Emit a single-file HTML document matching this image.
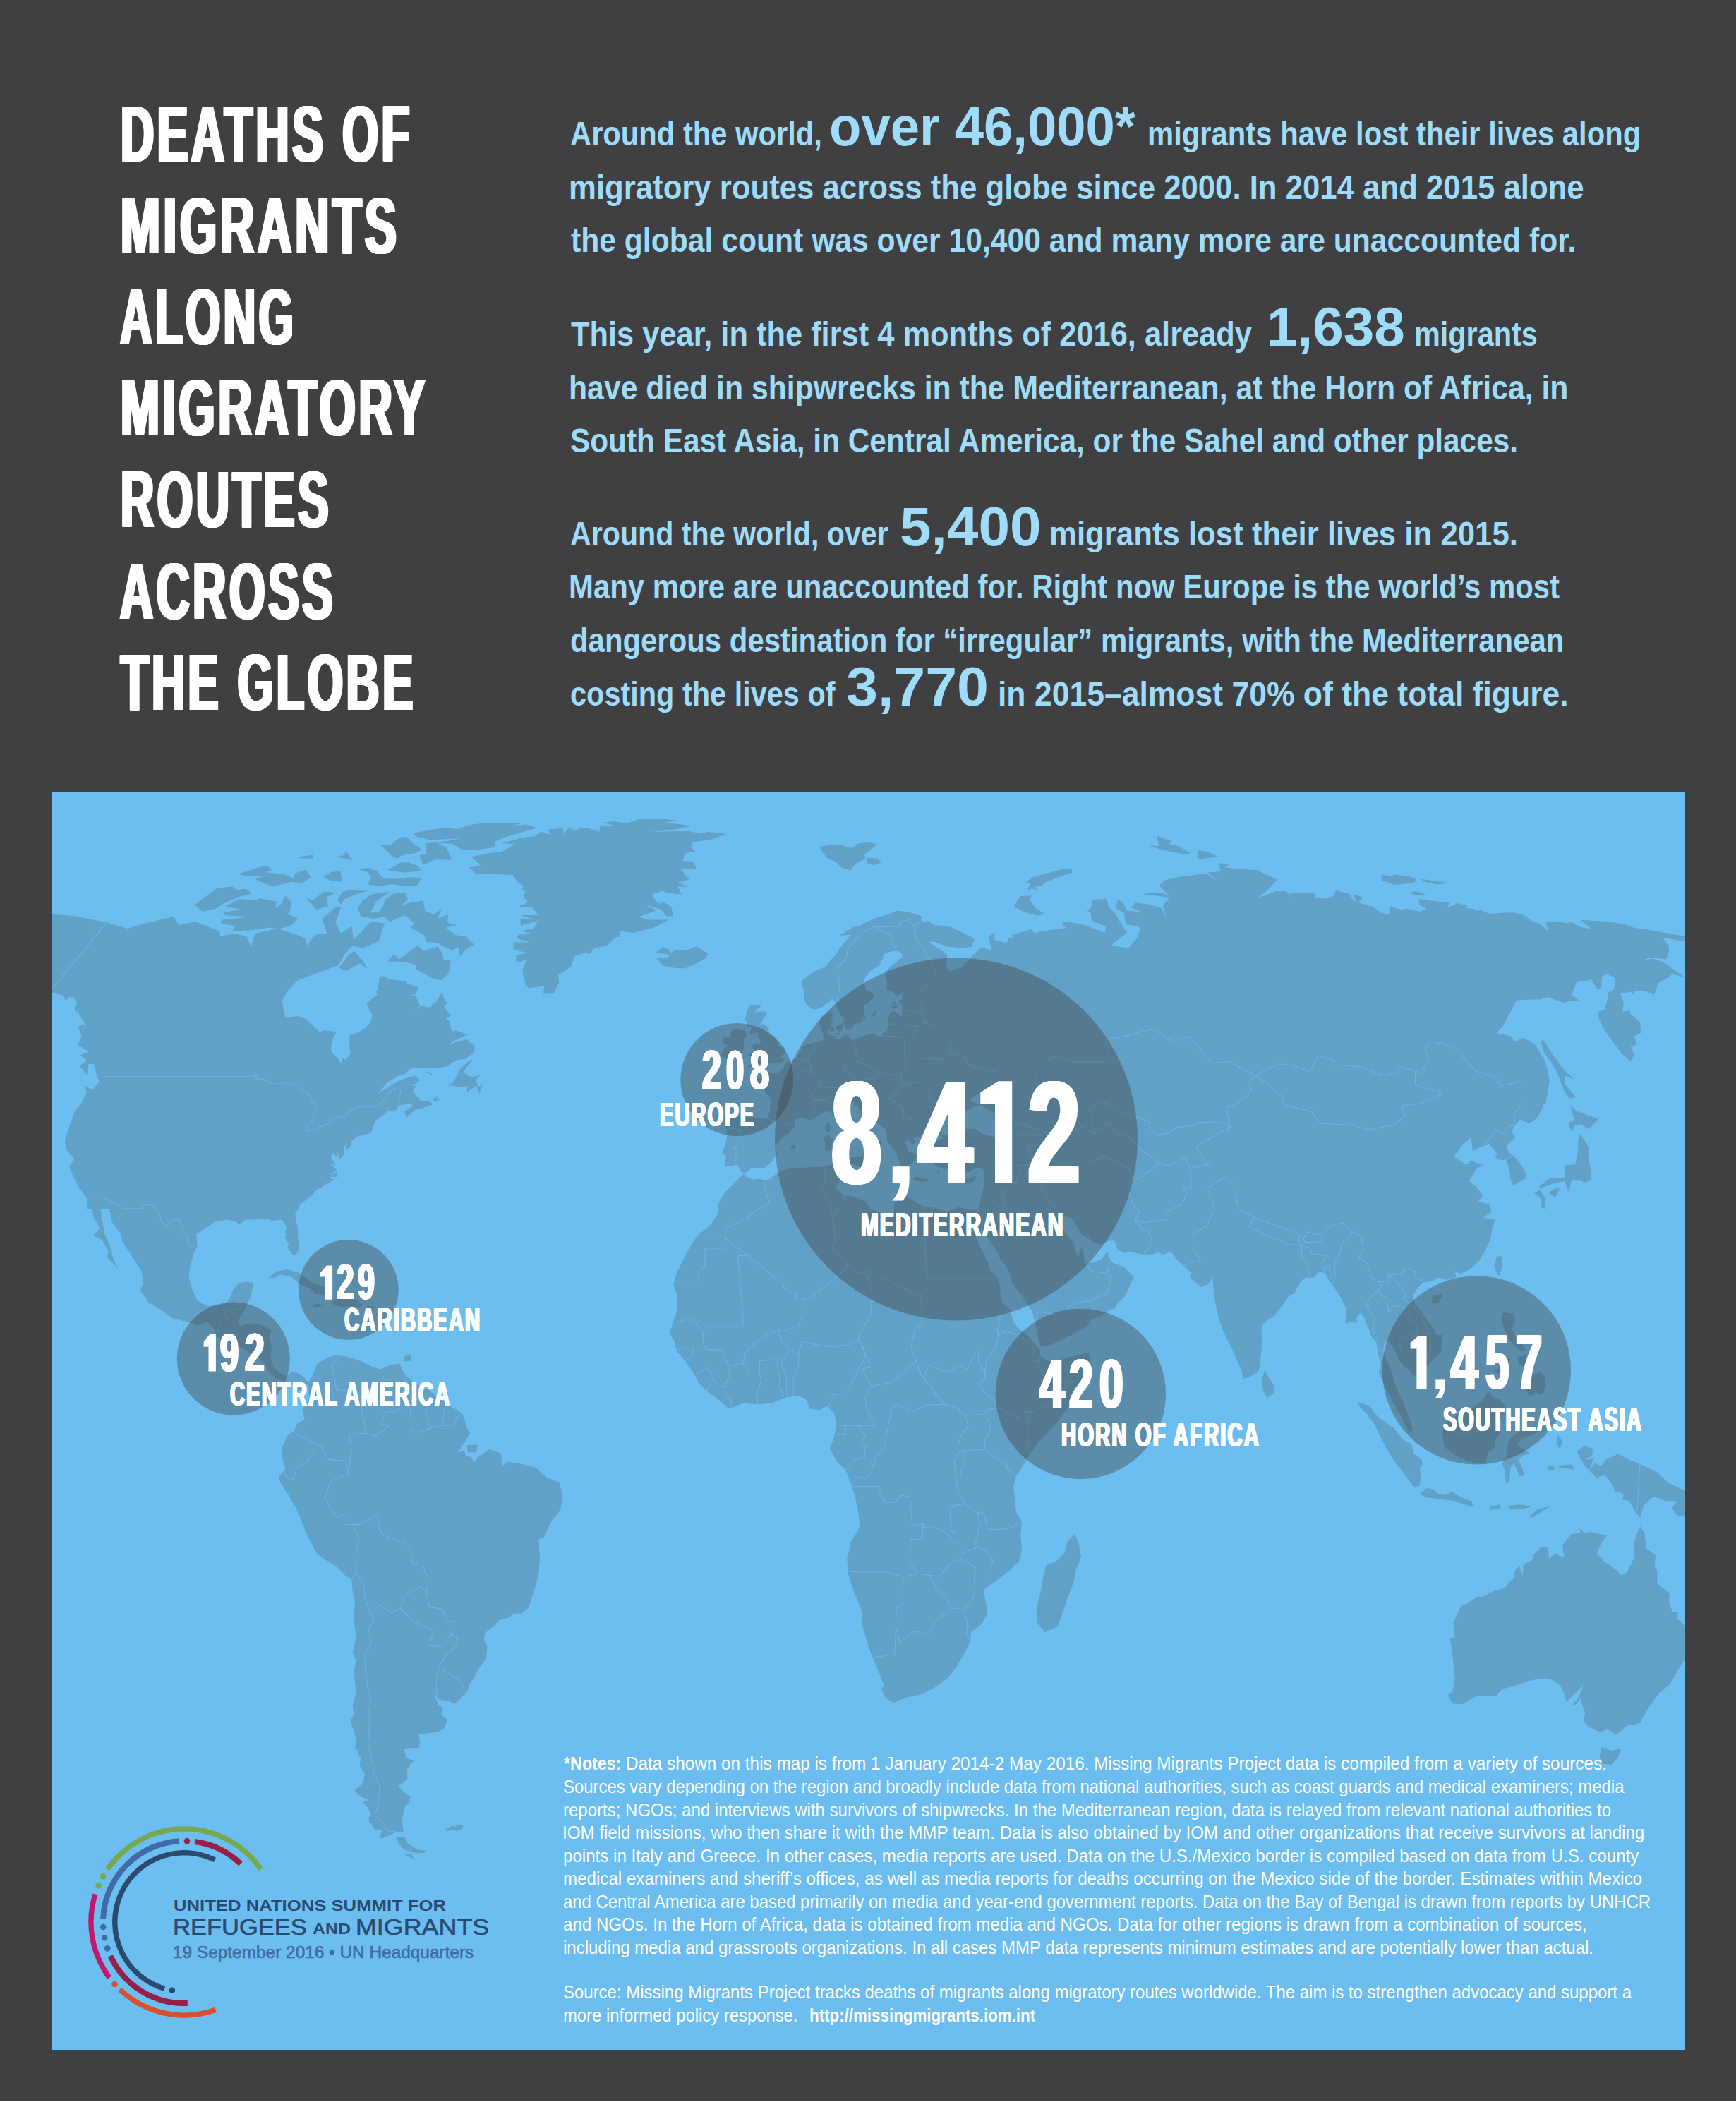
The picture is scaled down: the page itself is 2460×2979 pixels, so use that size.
<!DOCTYPE html>
<html><head><meta charset="utf-8"><title>Deaths of migrants along migratory routes across the globe</title>
<style>
html,body{margin:0;padding:0}
body{width:2460px;height:2979px;background:#404042;position:relative;overflow:hidden;font-family:"Liberation Sans",sans-serif}
.t{position:absolute;white-space:nowrap;line-height:1;transform-origin:0 0;margin:0}
#map{position:absolute;left:73px;top:1123px;width:2315px;height:1782px;background:#6dbef0;overflow:hidden}
#map svg{position:absolute;left:0;top:0}
#vline{position:absolute;left:714.6px;top:144.5px;width:1.8px;height:878.5px;background:#8cc4df}
#bot{position:absolute;left:0;top:2977.7px;width:2460px;height:1.3px;background:#ffffff}
</style></head><body>
<div id="vline"></div>
<div id="map"><svg width="2315" height="1782" viewBox="0 0 2315 1782">
<g fill="#61a0c7" stroke="none">
<polygon points="-2.5,172.5 30.0,175.0 77.5,184.0 107.5,193.0 131.0,186.0 172.5,176.0 181.0,188.0 204.0,183.0 239.0,197.0 238.0,204.0 260.0,200.0 276.5,204.0 282.5,219.0 288.5,200.0 320.0,193.0 350.0,202.5 359.5,207.0 362.0,217.0 373.5,202.0 390.0,199.5 383.5,179.0 402.5,162.5 410.5,162.0 402.5,184.0 410.0,199.5 425.5,189.5 428.0,209.5 452.0,183.0 472.0,185.5 463.5,211.0 440.5,221.0 426.5,217.0 415.0,230.0 406.5,245.0 379.5,255.0 354.5,264.0 312.0,264.0 312.0,590.0 50.0,590.0 50.0,575.0 37.5,557.5 30.0,542.5 25.0,530.0 32.5,520.0 20.0,505.0 19.0,492.5 25.0,475.0 32.5,452.5 42.5,440.0 50.0,425.0 47.5,415.0 57.5,422.5 67.5,410.0 62.5,395.0 60.0,385.0 52.5,385.0 50.0,400.0 40.0,387.5 50.0,380.0 40.0,372.5 52.5,367.5 37.5,357.5 42.5,345.0 37.5,332.5 47.5,327.5 42.5,320.0 32.5,307.5 35.0,295.0 27.5,290.0 20.0,295.0 15.0,287.5 5.0,285.0 -2.5,285.0"/>
<polygon points="307.0,257.0 363.8,257.0 354.0,262.9 344.2,270.7 334.4,281.5 326.6,296.2 331.5,319.7 348.1,316.7 361.8,321.6 369.7,330.5 380.5,340.3 384.4,336.9 404.0,339.3 399.1,348.1 396.1,361.8 397.1,369.6 404.9,375.5 410.8,384.3 412.8,376.5 416.7,379.4 423.6,369.6 422.2,358.9 422.6,344.2 434.3,340.3 444.1,334.4 452.0,325.6 454.9,315.8 446.5,301.1 448.0,297.2 461.8,286.4 459.8,282.5 462.7,278.5 464.7,262.9 469.6,259.9 479.4,264.8 502.9,267.8 503.9,270.7 520.5,276.6 515.6,286.4 506.8,286.4 515.6,288.3 522.5,302.1 510.7,310.9 523.5,302.4 537.2,305.0 541.1,298.1 545.0,297.2 553.8,282.5 555.8,292.3 561.7,299.1 555.8,303.0 565.6,316.7 558.7,320.7 563.6,323.6 567.5,339.3 573.4,337.3 590.1,343.2 567.5,353.0 564.6,358.5 569.5,354.9 588.1,350.0 599.5,358.9 598.9,367.7 587.1,377.5 573.4,379.4 559.7,388.6 547.9,390.6 510.7,389.8 500.9,399.0 491.1,401.6 475.5,411.8 462.7,427.0 483.3,413.7 495.1,406.9 515.6,401.6 522.5,408.2 514.6,413.7 501.9,413.7 516.6,416.6 511.7,423.5 517.6,430.4 522.5,436.8 535.2,437.2 541.1,442.1 526.4,447.0 514.6,449.9 502.9,460.7 499.9,451.9 510.7,445.1 511.7,440.2 491.1,444.1 489.2,449.9 479.4,451.9 477.4,449.9 473.5,454.8 458.8,465.6 452.9,482.3 432.4,488.1 425.5,494.0 424.5,499.9 417.7,507.7 417.7,498.9 413.8,501.9 414.7,513.6 408.9,519.5 404.0,505.8 405.9,517.5 398.1,510.7 396.1,517.5 403.0,528.3 393.2,526.3 401.0,531.2 404.0,535.2 395.1,543.0 404.0,539.1 404.9,545.0 392.2,545.0 401.0,548.9 393.2,552.8 374.6,564.5 368.7,571.4 353.0,583.2 345.2,597.8 347.2,609.6 349.1,619.4 349.1,633.1 351.1,640.9 349.1,650.7 345.2,656.6 341.3,654.6 334.4,643.9 336.4,640.9 330.5,630.2 333.4,628.2 330.5,625.3 333.4,616.5 326.6,605.7 312.9,606.7 307.0,604.7"/>
<polygon points="560.7,415.7 570.5,409.8 575.4,398.0 580.3,390.2 595.9,377.5 594.0,382.4 583.2,396.1 589.1,401.0 595.9,402.9 607.7,401.0 601.8,405.9 603.8,417.6 610.6,413.7 606.7,426.4 601.8,415.7 589.1,424.5 589.1,415.7 579.3,418.6 570.5,415.7"/>
<polygon points="530.3,394.7 541.1,399.6 540.1,400.6 530.3,396.1"/>
<polygon points="540.1,435.3 549.9,427.4 545.0,434.3 551.9,435.6 542.1,437.2"/>
<polygon points="529.3,257.0 558.7,257.0 549.9,266.2 539.1,262.9"/>
<polygon points="202.7,159.3 235.2,135.5 256.7,133.5 263.0,138.5 275.7,136.5 283.8,143.6 263.0,148.7 244.0,157.5 232.6,165.1 213.6,169.0"/>
<polygon points="244.0,170.2 268.1,165.9 246.6,161.3 265.6,151.2 288.4,152.5 296.0,149.9 318.8,155.0 317.5,163.9 325.1,158.8 331.0,146.6 340.4,156.3 336.6,172.8 349.2,179.1 339.1,189.2 323.9,193.0 306.1,191.8 288.4,194.8 255.4,196.8 260.5,189.2 240.2,185.4 241.5,180.4 282.1,176.6 244.0,174.0"/>
<polygon points="264.3,115.7 288.4,108.1 304.9,103.6 312.5,109.4 303.6,113.2 330.2,116.2 342.9,122.1 345.4,114.5 360.6,109.4 367.5,120.8 355.6,127.9 339.1,127.1 313.7,133.5 288.4,123.3 301.1,118.3 274.5,118.8"/>
<polygon points="384.7,119.5 397.4,112.7 409.6,111.4 411.8,126.4 397.4,125.9"/>
<polygon points="432.9,108.6 450.6,106.8 462.0,111.9 469.6,122.1 491.2,122.8 506.4,120.3 524.1,121.3 517.8,132.2 495.0,132.2 482.3,129.7 465.8,133.0 448.1,130.4 453.2,120.8 448.1,113.2"/>
<polygon points="476.0,110.1 495.0,99.2 506.4,99.2 519.1,104.3 524.1,110.7 515.3,111.9 500.1,113.7"/>
<polygon points="465.8,73.9 481.0,73.9 492.4,65.0 502.6,62.5 512.7,72.6 525.4,81.5 514.0,86.6 496.3,89.1 489.9,94.2 481.0,89.1"/>
<polygon points="512.7,57.4 541.9,52.3 559.6,49.8 574.8,52.3 592.6,46.0 612.9,43.5 629.3,44.2 629.3,77.7 602.7,81.5 582.4,81.5 567.2,72.6 546.9,72.1 559.6,77.7 567.2,95.4 541.9,95.4 526.7,103.0 521.6,89.1 531.7,87.8 529.2,72.6 562.2,68.8 578.6,65.0 536.8,67.6 516.5,62.5"/>
<polygon points="595.1,91.6 617.9,86.6 629.3,85.8 629.3,114.5 602.7,115.7 592.6,106.8 607.8,103.0 605.3,99.2"/>
<polygon points="360.6,149.9 369.5,152.5 387.3,140.6 402.5,142.3 389.8,148.7 391.8,161.3 375.8,165.9"/>
<polygon points="405.0,152.5 412.6,141.1 424.0,138.0 448.1,139.8 430.3,144.9 415.1,151.2 410.1,158.8"/>
<polygon points="434.1,163.9 440.5,153.7 450.6,146.1 463.3,142.3 479.8,141.1 460.8,153.7 451.9,170.2 463.3,170.2 469.6,161.3 473.4,151.2 484.8,143.6 501.3,142.3 505.1,152.5 495.0,160.1 508.9,156.3 526.7,153.7 529.2,167.7 541.9,172.8 553.3,165.1 546.9,179.1 562.2,172.8 560.9,184.2 574.8,188.0 558.4,191.8 572.3,201.9 587.5,204.4 598.9,215.8 587.5,222.2 578.6,232.3 577.4,219.6 567.2,223.5 552.0,217.1 546.9,213.3 530.5,212.0 527.9,201.9 508.9,191.8 514.0,185.4 501.3,174.0 479.8,182.9 470.9,176.6 455.7,179.1 438.0,175.3"/>
<polygon points="476.0,239.4 484.8,229.8 493.7,236.1 511.5,222.2 519.1,217.1 527.9,224.7 546.9,218.4 553.3,227.3 555.8,237.4 566.0,237.4 562.2,257.7 550.8,266.5 536.8,261.5 515.3,250.1 516.5,245.0 502.6,239.9"/>
<polygon points="407.5,248.8 421.5,229.8 429.1,224.7 440.5,237.4 448.1,250.1 436.7,242.5 417.7,252.6"/>
<polygon points="349.2,91.6 370.8,88.6 371.5,93.4 351.8,93.4"/>
<polygon points="402.5,91.6 413.9,89.1 417.2,83.3 426.5,96.7 415.1,93.4"/>
<polygon points="594.8,91.8 625.3,85.2 638.5,83.8 657.1,73.2 638.5,71.9 667.7,64.0 683.6,62.6 694.2,56.0 707.4,60.0 703.5,52.6 724.7,50.7 726.0,58.7 733.9,49.4 741.9,54.7 749.8,49.4 760.4,50.7 776.3,56.0 777.7,46.7 797.5,47.3 781.6,42.8 797.5,40.9 814.7,44.1 832.0,38.3 858.5,36.7 887.6,40.1 869.1,42.8 907.5,47.3 879.7,53.4 847.9,56.0 903.5,54.7 919.4,58.7 930.0,56.0 956.5,58.7 936.6,66.6 908.8,70.6 906.2,78.5 912.8,83.8 898.2,86.5 894.2,97.1 908.8,98.4 914.1,107.7 891.6,109.0 903.5,123.6 887.6,127.6 903.5,134.2 887.6,132.9 892.9,144.8 871.7,142.1 865.1,139.5 850.5,144.8 859.8,158.0 867.7,155.4 878.3,162.0 881.0,175.3 871.7,175.3 863.8,166.0 839.9,158.0 857.1,167.3 832.0,176.6 845.2,180.6 874.4,180.6 854.5,191.2 825.3,199.1 805.5,196.5 805.5,204.4 798.8,205.7 788.3,216.3 768.4,221.6 761.8,229.6 757.8,226.9 740.6,232.2 736.6,246.8 718.0,258.7 719.4,269.3 711.4,285.2 696.8,285.2 698.2,274.6 675.6,277.3 670.3,268.0 667.2,252.1 673.0,237.5 658.4,241.5 658.4,230.9 673.0,226.9 654.4,223.0 654.4,212.4 678.3,212.4 659.7,207.1 661.1,201.8 682.3,200.4 665.0,196.5 683.6,192.5 688.9,181.9 665.0,188.5 664.5,179.2 684.9,180.6 665.0,173.9 690.2,173.9 680.9,163.3 661.1,162.0 675.6,155.4 669.0,147.4 671.7,140.8 666.4,136.8 669.0,132.9 659.7,126.2 653.1,117.0 620.0,115.6 601.4,115.6 592.2,106.4 622.6,105.0 625.3,100.3 606.7,101.1"/>
<polygon points="620.0,44.1 646.5,42.8 665.0,44.1 651.8,47.3 673.0,45.4 687.6,49.9 673.0,54.7 654.4,60.0 641.2,64.0 620.0,73.2"/>
<polygon points="855.8,227.5 866.4,219.0 875.7,223.0 878.3,228.3 883.6,223.0 898.2,224.3 914.1,218.2 930.0,228.3 927.4,234.9 912.8,242.8 896.9,249.4 882.3,248.7 866.4,245.5 857.1,234.9 874.4,233.6 874.4,229.6"/>
<polygon points="42.6,557.0 51.2,567.4 54.7,577.7 59.8,601.9 68.5,617.5 59.8,627.9 71.9,634.8 80.6,650.3 78.8,659.0 90.9,671.1 95.1,678.0 87.5,660.7 84.0,645.1 75.4,626.1 68.5,586.4 82.3,591.6 85.8,608.8 97.9,626.1 101.3,638.2 111.7,653.8 127.2,678.0 130.7,695.3 125.5,705.6 137.6,722.9 154.9,733.3 172.2,745.4 192.9,750.6 206.7,755.8 220.6,750.6 230.9,760.9 234.4,771.3 248.2,778.2 269.0,786.9 282.8,795.5 300.1,805.9 307.0,819.7 317.4,830.1 327.7,833.5 331.2,843.9 339.8,838.7 348.5,849.1 358.8,843.9 364.0,837.0 358.8,830.1 350.2,823.2 339.8,821.4 332.9,826.6 324.3,823.2 313.9,814.5 310.4,799.0 312.2,785.1 308.7,771.3 312.2,762.7 300.1,755.8 286.2,752.3 272.4,754.0 269.0,757.5 263.8,750.6 269.0,740.2 275.9,729.8 282.8,712.5 286.2,695.3 275.9,693.5 265.5,695.3 256.9,705.6 251.7,719.5 241.3,726.4 220.6,728.1 206.7,719.5 199.8,705.6 194.6,688.4 196.4,671.1 201.6,653.8 206.7,643.4 205.0,626.1 218.8,617.5 230.9,608.8 248.2,605.4 262.1,608.8 265.5,612.3 275.9,605.4 289.7,605.4 312.2,603.7 312.2,557.0"/>
<polygon points="307.7,687.7 319.1,678.7 334.6,676.3 350.2,680.7 367.5,693.5 384.8,700.4 398.6,709.1 393.4,712.5 372.7,710.8 367.5,703.9 351.9,697.0 339.8,686.6 324.3,683.2 313.9,688.4"/>
<polygon points="396.9,722.2 405.5,716.7 421.1,716.7 433.2,719.5 441.8,726.4 434.9,729.8 422.8,728.1 414.1,729.8 402.0,727.1"/>
<polygon points="367.5,726.4 379.6,724.6 384.8,728.1 372.7,729.8"/>
<polygon points="447.0,728.1 457.3,728.1 457.3,731.6 447.0,731.6"/>
<polygon points="500.6,799.0 509.2,797.2 509.2,805.9 499.9,805.9"/>
<polygon points="363.9,836.9 371.7,822.3 376.6,809.4 391.1,801.3 404.1,797.1 417.0,799.6 429.9,802.9 442.9,807.7 454.2,814.2 465.5,817.4 481.7,811.0 493.0,809.4 497.9,820.7 504.3,828.8 514.1,836.9 533.5,846.6 552.9,861.1 565.8,870.8 578.8,877.3 583.6,883.8 588.5,899.9 593.3,908.0 588.5,916.1 582.0,925.8 575.5,935.5 569.1,938.1 585.2,932.3 586.8,940.4 594.9,942.0 598.2,950.1 604.6,942.0 620.8,930.7 637.0,937.1 638.6,954.9 646.7,948.5 666.1,951.7 685.5,956.6 701.7,971.1 719.5,977.6 724.3,997.0 721.1,1016.4 706.5,1035.8 698.5,1055.2 690.4,1058.5 692.0,1084.3 690.4,1107.0 685.5,1126.4 675.8,1155.5 666.1,1163.6 656.4,1163.6 646.7,1170.1 633.8,1173.3 628.9,1179.8 614.3,1191.1 612.7,1200.8 617.6,1210.5 616.0,1226.7 604.6,1242.9 598.2,1255.8 593.3,1262.3 588.5,1275.2 582.0,1281.7 572.3,1291.4 562.6,1288.2 548.0,1284.9 543.2,1278.5 540.6,1272.0 548.0,1293.0 554.5,1297.9 552.9,1307.6 561.0,1314.0 556.1,1327.0 546.4,1331.8 520.5,1335.1 522.1,1346.4 520.5,1354.5 499.5,1356.1 502.7,1369.0 514.1,1372.3 501.1,1375.5 504.3,1385.2 502.7,1396.5 491.4,1407.9 494.6,1419.2 509.2,1424.0 501.1,1433.7 496.3,1459.6 449.3,1459.6 454.2,1443.5 449.3,1427.3 439.6,1424.0 429.9,1416.0 439.6,1406.2 444.5,1391.7 436.4,1378.7 439.6,1359.3 429.9,1356.1 431.6,1339.9 423.5,1315.7 428.3,1307.6 426.7,1294.6 431.6,1275.2 428.3,1246.1 431.6,1229.9 426.7,1220.2 431.6,1197.6 429.9,1184.6 428.3,1168.5 429.9,1149.0 426.7,1132.9 425.1,1115.1 417.0,1110.2 404.1,1097.3 387.9,1087.6 376.6,1079.5 370.1,1068.2 362.0,1052.0 355.5,1035.8 345.8,1013.2 334.5,993.8 324.8,979.2 321.6,971.1 331.3,958.2 326.4,942.0 326.4,929.1 334.5,911.3 344.2,904.8 347.4,895.1 358.8,888.6 355.5,874.1 365.2,857.9"/>
<polygon points="588.5,925.2 604.6,924.2 601.4,935.5 590.1,935.5"/>
<polygon points="435.4,1356.0 499.7,1356.0 502.8,1368.4 514.2,1372.6 505.9,1376.7 510.1,1374.6 503.9,1385.0 504.3,1398.5 491.4,1408.8 499.7,1417.1 508.0,1423.4 504.9,1428.5 509.1,1428.5 496.6,1442.0 494.5,1446.2 496.6,1456.5 498.7,1473.1 489.4,1473.1 468.6,1482.5 464.5,1481.4 468.6,1471.1 458.2,1470.0 453.1,1460.7 448.9,1453.4 453.1,1448.2 448.9,1440.0 441.7,1430.6 450.0,1429.6 444.8,1417.1 438.5,1416.1 429.2,1414.0 438.5,1406.8 442.7,1413.0 446.8,1396.4 441.7,1388.1 443.7,1379.8 440.6,1369.4 435.4,1365.3"/>
<polygon points="488.3,1480.4 499.7,1479.8 504.9,1489.7 512.2,1494.9 522.5,1499.1 531.9,1500.1 526.7,1503.2 516.3,1503.2 508.0,1501.1 499.7,1498.0 492.5,1490.8"/>
<polygon points="499.7,1505.3 510.1,1504.2 513.2,1511.5"/>
<polygon points="557.8,1470.0 569.2,1463.8 571.3,1466.9 574.4,1462.8 583.7,1464.8 581.6,1469.0 574.4,1472.1 569.2,1470.0 561.9,1472.1"/>
<polygon points="980.1,541.0 968.0,553.1 953.9,567.2 945.8,581.4 943.8,597.5 933.7,613.6 915.5,627.7 903.5,645.9 895.4,662.0 885.3,682.2 881.3,698.3 887.3,714.4 885.3,738.6 879.3,754.7 876.0,766.8 883.3,778.9 885.3,791.0 895.4,803.1 907.5,819.3 917.6,837.4 927.6,847.5 943.8,859.6 959.9,873.7 980.1,865.6 1000.2,867.6 1020.4,865.6 1040.5,857.6 1056.7,854.7 1068.8,859.6 1074.8,873.7 1088.9,874.9 1099.0,869.7 1109.1,879.7 1112.3,895.9 1109.1,914.0 1103.0,930.1 1113.1,948.3 1125.2,960.4 1133.3,980.5 1139.3,1000.7 1143.4,1020.9 1145.4,1041.0 1133.3,1061.2 1127.2,1085.4 1129.3,1109.6 1137.3,1133.8 1147.4,1158.0 1149.4,1182.2 1157.5,1210.4 1165.5,1230.5 1175.6,1254.7 1179.7,1266.8 1175.6,1270.1 1181.7,1283.0 1193.0,1290.2 1209.9,1283.0 1234.1,1278.1 1254.3,1266.8 1270.4,1254.7 1282.5,1238.6 1294.6,1218.5 1302.6,1202.3 1302.6,1190.2 1318.8,1178.1 1326.8,1162.0 1322.8,1141.8 1320.8,1129.7 1338.9,1117.6 1359.1,1101.5 1371.2,1089.4 1375.2,1073.3 1373.2,1053.1 1375.2,1033.0 1367.2,1020.9 1365.1,1000.7 1363.1,984.6 1367.2,968.5 1372.0,962.0 1382.5,943.5 1397.0,922.9 1421.2,897.5 1447.8,862.4 1458.7,834.2 1471.6,808.8 1470.0,793.9 1447.8,799.1 1416.4,808.0 1401.4,799.1 1400.6,785.4 1371.2,762.8 1371.2,476.5 980.1,476.5"/>
<polygon points="1449.8,1051.1 1455.9,1065.2 1459.1,1083.4 1451.8,1101.5 1447.8,1121.7 1439.7,1141.8 1431.7,1166.0 1425.6,1182.2 1407.5,1190.2 1397.4,1178.1 1395.4,1158.0 1401.4,1133.8 1405.5,1109.6 1409.5,1095.5 1423.6,1089.4 1435.7,1077.3 1439.7,1061.2"/>
<polygon points="1205.3,168.7 1220.4,173.7 1233.7,182.1 1250.4,190.4 1273.8,195.5 1297.2,202.1 1308.9,208.8 1303.9,218.8 1290.5,220.5 1268.8,218.8 1250.4,212.2 1240.4,208.8 1205.3,200.5"/>
<polygon points="1205.3,213.8 1243.8,213.8 1270.5,226.5 1268.8,233.9 1287.2,246.2 1305.6,228.9 1317.3,218.8 1332.3,223.9 1327.3,203.8 1337.3,198.8 1335.6,208.8 1354.0,213.8 1355.7,206.5 1362.4,205.5 1360.7,202.1 1389.1,193.8 1392.4,199.8 1400.8,197.1 1437.5,192.1 1431.5,185.4 1437.5,183.1 1460.9,187.1 1492.7,198.8 1494.3,190.4 1484.3,185.4 1474.3,183.8 1472.6,170.4 1467.6,168.7 1474.3,162.0 1474.3,152.0 1494.3,151.0 1499.3,163.7 1507.7,172.1 1516.1,187.1 1524.4,198.8 1504.4,213.8 1502.7,217.2 1526.1,220.5 1537.8,207.2 1542.8,193.8 1541.1,190.4 1522.7,187.1 1519.4,170.4 1507.7,163.7 1511.0,152.0 1519.4,157.0 1522.7,167.1 1547.8,170.4 1529.4,163.7 1536.1,156.4 1554.5,158.7 1572.9,163.7 1579.5,178.8 1576.2,165.4 1574.5,160.4 1584.5,148.7 1544.5,144.3 1557.8,142.7 1574.5,142.0 1584.5,147.0 1569.5,132.0 1577.9,124.3 1604.6,118.6 1636.3,115.3 1653.0,125.3 1638.0,113.6 1656.4,111.9 1654.7,100.2 1669.7,101.9 1661.4,106.2 1681.4,108.6 1708.2,110.3 1736.6,123.6 1723.2,138.7 1708.2,150.4 1734.9,140.3 1749.9,140.3 1763.3,152.0 1754.9,143.7 1775.0,142.0 1790.0,143.0 1790.0,541.3 1205.3,541.3"/>
<polygon points="1364.0,162.0 1372.4,147.0 1389.1,146.3 1385.8,152.0 1394.1,163.7 1407.5,172.1 1397.4,174.4 1380.7,170.4 1370.7,165.4"/>
<polygon points="1382.4,140.3 1387.4,128.6 1380.7,127.0 1390.8,120.3 1407.5,115.3 1437.5,107.6 1445.9,109.6 1446.9,113.6 1424.2,120.9 1405.8,128.6 1404.1,132.0 1394.1,132.0 1395.8,138.7 1389.1,136.3"/>
<polygon points="1554.5,75.2 1569.5,76.2 1566.2,61.8 1586.2,68.5 1584.5,73.5 1594.6,75.2 1614.6,86.2 1604.6,87.5 1584.5,83.5 1569.5,80.2"/>
<polygon points="1624.6,81.9 1638.0,84.2 1653.0,90.9 1638.0,92.9 1624.6,95.2"/>
<polygon points="1733.3,140.3 1748.4,140.3 1763.4,153.7 1756.7,143.7 1771.8,142.0 1786.8,143.7 1788.5,148.7 1801.8,150.4 1816.9,147.0 1820.2,138.7 1838.6,143.7 1845.3,153.7 1850.3,155.4 1843.6,144.3 1858.6,148.7 1851.9,155.4 1865.3,166.4 1853.6,156.4 1872.0,162.0 1883.7,170.4 1895.4,173.1 1897.0,162.0 1915.4,167.1 1918.8,164.4 1938.8,168.7 1948.8,164.7 1938.8,159.7 1937.1,151.0 1955.5,153.7 1982.2,156.4 1977.2,163.7 1992.3,157.0 2007.3,161.0 2002.3,163.7 2017.3,165.4 2019.0,167.7 2025.7,167.1 2037.4,172.1 2057.4,170.4 2072.5,170.4 2085.8,173.7 2095.8,180.4 2100.9,183.8 2107.5,185.4 2120.9,196.5 2117.6,184.4 2135.9,183.1 2149.3,185.4 2152.0,183.1 2166.0,190.4 2182.7,193.8 2166.0,180.4 2186.1,182.1 2206.1,183.1 2227.8,186.4 2242.9,192.1 2256.2,193.8 2276.3,197.1 2303.0,202.1 2318.0,204.5 2318.0,212.2 2299.7,208.8 2282.9,205.5 2291.3,217.2 2292.3,225.5 2288.0,236.6 2266.2,233.9 2254.5,237.9 2269.6,235.5 2282.9,239.9 2296.3,248.9 2314.7,262.3 2303.0,258.9 2291.3,256.6 2296.3,257.9 2282.9,267.3 2276.3,270.6 2271.3,286.7 2256.2,280.7 2242.9,282.3 2242.2,287.3 2237.8,282.3 2222.8,285.7 2227.8,297.4 2226.1,310.7 2236.2,309.1 2237.8,314.1 2251.2,325.8 2252.2,340.8 2242.9,345.8 2246.2,357.5 2237.8,360.8 2242.9,370.9 2237.8,380.9 2226.1,370.9 2212.8,354.2 2201.1,337.5 2192.7,320.7 2192.1,310.7 2201.1,308.1 2204.4,294.0 2206.1,284.0 2216.1,277.3 2215.5,262.3 2204.4,257.9 2197.1,260.6 2196.1,275.6 2191.1,280.0 2182.7,265.6 2161.0,269.0 2154.3,286.7 2166.0,295.7 2151.0,295.7 2142.6,298.0 2119.2,290.0 2109.2,293.4 2095.8,293.4 2075.8,294.7 2069.1,307.4 2060.8,324.1 2055.7,332.4 2047.4,340.8 2069.1,345.8 2072.5,354.2 2085.8,347.5 2102.5,357.5 2112.5,374.2 2122.6,407.6 2117.6,441.0 1733.3,441.0"/>
<polygon points="2109.9,352.5 2114.2,350.8 2129.3,374.2 2140.9,390.9 2157.7,406.9 2144.3,400.9 2143.3,414.3 2159.3,431.0 2152.6,433.7 2144.3,426.0 2135.9,400.9 2124.2,380.9 2115.9,370.9"/>
<polygon points="1884.7,116.3 1902.1,119.6 1900.4,116.3 1922.1,118.6 1933.8,123.0 1930.5,128.6 1902.1,131.0 1884.7,124.3"/>
<polygon points="1940.5,122.6 1962.2,126.3 1974.9,127.0 1973.9,129.6 1962.2,130.3 1943.8,126.0"/>
<polygon points="1925.4,143.7 1930.5,140.3 1938.8,141.0 1949.5,146.3 1937.1,145.7"/>
<polygon points="2114.2,375.3 2119.2,390.4 2122.6,408.7 2117.6,430.5 2112.5,448.8 2104.2,462.2 2094.2,468.9 2080.8,463.2 2072.5,473.9 2069.1,480.6 2074.1,488.9 2060.8,502.3 2065.8,510.6 2072.5,515.7 2082.5,527.4 2090.2,542.4 2087.5,549.1 2079.1,552.4 2070.8,557.4 2067.4,547.4 2065.8,534.0 2060.8,520.7 2055.7,521.3 2045.1,517.3 2049.1,512.3 2037.4,499.0 2029.0,500.6 2014.0,509.0 2011.6,488.9 1998.9,500.6 1987.3,515.7 2005.0,528.0 2010.6,522.3 2029.0,527.4 2019.0,534.0 2009.0,550.7 2019.0,559.1 2029.0,572.5 2020.7,579.1 2037.4,584.2 2040.7,594.2 2029.0,602.5 2045.7,605.9 2040.7,620.9 2039.7,630.9 2034.0,644.3 2029.0,654.3 2022.3,664.3 2012.3,674.4 1995.6,682.7 1988.9,677.7 1990.6,687.7 1975.6,691.1 1965.5,687.7 1957.2,692.7 1943.8,694.4 1935.5,702.8 1928.8,714.5 1932.1,724.5 1942.2,737.8 1957.2,757.9 1965.5,774.6 1872.7,774.6 1865.3,757.9 1860.3,744.5 1855.3,737.8 1848.6,744.5 1835.2,752.9 1833.6,741.2 1845.3,724.5 1835.2,717.8 1831.9,707.8 1825.2,697.7 1816.9,691.1 1810.2,684.4 1805.2,674.4 1795.1,679.4 1788.5,686.1 1781.8,687.7 1771.8,686.1 1761.7,697.7 1755.0,707.8 1745.0,717.8 1735.0,731.2 1733.3,732.8 1733.3,375.3"/>
<polygon points="2152.6,442.2 2159.3,450.5 2176.0,457.2 2192.1,462.2 2179.4,477.2 2166.0,470.6 2157.7,472.2 2154.3,482.2 2149.3,468.9 2158.7,463.2 2154.3,452.2"/>
<polygon points="2166.0,483.9 2172.7,493.9 2178.7,504.0 2177.7,517.3 2181.0,534.0 2182.0,549.1 2171.0,554.1 2169.3,550.7 2154.3,550.1 2149.3,565.8 2144.3,550.7 2129.3,554.1 2109.2,560.8 2107.5,559.1 2122.6,546.7 2144.3,545.7 2145.3,528.0 2159.3,527.4 2162.7,510.6 2163.3,493.9"/>
<polygon points="2120.9,566.8 2130.9,561.4 2137.6,560.8 2130.9,574.1"/>
<polygon points="2100.9,568.1 2109.2,563.4 2117.6,575.8 2115.9,590.8 2110.9,587.5 2111.9,577.5"/>
<polygon points="2047.4,657.7 2055.7,657.0 2055.1,674.4 2050.7,686.1 2045.1,674.4"/>
<polygon points="1957.2,712.8 1971.6,711.1 1965.5,723.8 1955.5,724.5"/>
<polygon points="2124.2,375.3 2135.9,387.0 2154.3,403.7 2140.9,400.4 2144.3,413.8 2159.3,430.5 2151.0,433.8 2140.9,417.1 2132.6,393.7"/>
<polygon points="1868.6,768.7 1970.5,768.7 1969.5,792.8 1962.2,800.5 1952.8,808.8 1942.2,820.5 1934.1,827.9 1927.1,824.5 1922.1,817.2 1915.4,812.2 1908.7,803.8 1902.1,787.1 1893.0,776.4 1888.7,780.4 1887.0,792.1 1892.0,803.8 1898.7,820.5 1903.7,837.2 1908.7,850.6 1915.4,864.0 1920.4,877.3 1925.4,890.7 1929.5,904.1 1923.8,906.4 1917.1,894.0 1908.7,877.3 1898.7,860.6 1888.7,840.6 1880.3,820.5 1883.7,813.8 1880.3,797.1 1877.0,778.8"/>
<polygon points="1850.3,864.0 1867.0,869.0 1878.7,884.0 1892.0,894.0 1902.1,900.7 1915.4,917.4 1927.1,924.1 1930.5,937.5 1940.5,944.2 1943.8,950.8 1938.8,957.5 1940.5,970.9 1938.8,982.6 1930.5,984.2 1920.4,970.9 1910.4,957.5 1900.4,944.2 1890.4,927.4 1882.0,910.7 1873.7,894.0 1863.6,880.7 1853.6,870.6"/>
<polygon points="1938.8,994.3 1948.8,985.9 1958.9,987.6 1965.5,994.3 1975.6,995.9 1983.9,990.9 1992.3,995.9 2002.3,1000.9 2012.3,1004.3 2015.0,1012.6 2002.3,1009.3 1988.9,1004.3 1975.6,1002.6 1962.2,1000.9 1948.8,999.3"/>
<polygon points="2037.4,1012.6 2052.4,1009.3 2054.1,1014.3 2039.0,1017.0"/>
<polygon points="2064.1,1011.0 2082.5,1009.3 2097.5,1012.6 2082.5,1016.0 2065.8,1015.0"/>
<polygon points="2094.2,1026.0 2105.9,1016.0 2124.2,1011.6 2109.2,1021.0 2097.5,1028.3"/>
<polygon points="1970.5,907.4 1975.6,894.0 1988.9,884.0 2002.3,877.3 2015.7,870.6 2029.0,860.6 2035.7,848.9 2042.4,857.3 2052.4,860.6 2060.8,870.6 2055.7,884.0 2049.1,894.0 2054.1,907.4 2045.7,917.4 2044.1,930.8 2035.7,934.1 2032.4,950.8 2019.0,950.8 2002.3,945.8 1985.6,937.5 1973.9,927.4"/>
<polygon points="2060.8,934.1 2065.8,917.4 2072.5,910.7 2082.5,904.1 2099.2,902.4 2112.5,904.1 2095.8,910.7 2082.5,917.4 2075.8,924.1 2085.8,930.8 2095.8,937.5 2085.8,939.1 2079.1,945.8 2087.5,967.5 2080.8,969.2 2072.5,950.8 2067.4,957.5 2065.8,977.6 2060.8,979.2 2059.1,960.9 2055.7,950.8 2064.1,937.5"/>
<polygon points="2057.4,737.0 2072.5,738.7 2074.1,750.4 2069.1,760.4 2074.1,770.4 2082.5,780.4 2089.2,790.5 2082.5,792.1 2072.5,783.8 2064.1,773.8 2057.4,757.0 2054.1,743.7"/>
<polygon points="2077.5,800.5 2089.2,797.1 2094.2,807.2 2085.8,813.8 2079.1,810.5"/>
<polygon points="2097.5,827.2 2109.2,820.5 2115.9,827.2 2117.6,840.6 2112.5,853.9 2102.5,850.6 2095.8,857.3 2089.2,847.3 2097.5,838.9"/>
<polygon points="2045.7,820.5 2065.8,800.5 2067.4,803.8 2049.1,824.5"/>
<polygon points="2134.3,910.7 2140.9,919.1 2137.6,930.8 2132.6,922.4"/>
<polygon points="2161.0,934.1 2172.7,925.8 2184.4,930.8 2182.7,940.8 2172.7,945.8 2184.4,944.2 2179.4,964.2 2186.1,950.8 2196.1,954.2 2202.8,945.8 2219.5,937.5 2236.2,945.8 2256.2,954.2 2276.3,964.2 2289.6,977.6 2303.0,984.2 2318.0,990.9 2318.0,1027.7 2303.0,1024.3 2296.3,1014.3 2303.0,1004.3 2286.3,1004.3 2269.6,997.6 2256.2,1011.0 2251.2,1027.7 2242.9,1017.7 2236.2,1004.3 2226.1,1002.6 2227.8,994.3 2216.1,990.9 2209.4,977.6 2201.1,967.5 2189.4,970.9 2172.7,954.2 2166.0,944.2"/>
<polygon points="2134.3,954.2 2154.3,952.5 2157.7,959.2 2137.6,957.5"/>
<polygon points="2119.2,955.8 2129.3,954.2 2129.3,960.2 2119.9,960.2"/>
<polygon points="2251.6,1040.3 2257.5,1049.8 2259.9,1071.2 2273.0,1080.7 2271.8,1097.4 2275.4,1102.1 2275.4,1121.2 2293.2,1135.4 2292.0,1147.3 2296.8,1161.6 2305.1,1161.6 2303.9,1171.1 2317.0,1183.0 2317.0,1225.8 2309.9,1235.4 2300.3,1252.0 2293.2,1263.9 2286.1,1269.8 2276.6,1278.2 2264.7,1294.8 2252.8,1313.9 2251.6,1318.6 2245.6,1320.5 2233.7,1322.2 2217.1,1335.3 2205.2,1327.6 2194.5,1331.7 2177.8,1324.6 2170.7,1316.2 2173.1,1304.3 2168.3,1290.1 2167.1,1282.9 2160.0,1292.4 2154.1,1294.3 2162.4,1285.3 2168.3,1273.4 2169.5,1266.3 2162.4,1273.4 2146.9,1288.9 2142.2,1273.4 2137.4,1265.1 2124.3,1256.8 2117.2,1255.6 2098.2,1258.0 2076.8,1265.1 2055.3,1271.0 2047.0,1280.5 2019.7,1280.5 1998.3,1292.4 1985.2,1291.3 1978.7,1279.4 1985.2,1274.6 1988.7,1256.8 1986.4,1233.0 1984.0,1211.6 1981.6,1199.7 1988.7,1197.3 1986.4,1177.1 1994.7,1159.2 1997.1,1153.3 2010.1,1147.3 2022.0,1139.0 2024.4,1141.4 2043.4,1131.9 2060.1,1127.1 2067.2,1117.6 2073.2,1112.9 2072.0,1104.5 2080.3,1096.2 2084.4,1110.5 2085.8,1093.8 2100.5,1086.7 2098.2,1081.9 2110.1,1070.0 2120.8,1070.0 2121.9,1086.7 2130.3,1078.4 2143.4,1084.3 2141.0,1066.5 2154.1,1051.0 2167.1,1049.8 2164.8,1042.7 2174.3,1051.0 2179.0,1047.4 2204.0,1053.4 2198.1,1060.5 2189.7,1078.4 2199.3,1089.1 2217.1,1102.1 2224.2,1109.3 2232.6,1105.7 2243.3,1083.1 2242.8,1064.1 2246.8,1049.8"/>
<polygon points="2196.9,1353.1 2210.0,1357.9 2224.2,1355.5 2219.5,1368.6 2210.0,1378.1 2199.3,1376.9 2193.3,1366.2"/>
<polygon points="1504.0,633.6 1511.2,648.0 1519.8,652.4 1531.3,651.8 1545.7,654.7 1560.1,654.7 1568.8,651.8 1574.5,655.2 1586.1,650.9 1591.8,658.1 1599.0,666.8 1606.2,672.5 1616.3,682.6 1624.9,676.9 1612.0,685.5 1619.2,692.7 1629.3,701.3 1639.3,697.0 1645.1,686.4 1646.5,704.2 1649.4,724.4 1653.7,744.5 1659.5,761.8 1666.7,776.2 1672.5,787.7 1678.2,800.7 1684.0,813.7 1689.2,830.9 1696.9,828.6 1708.5,822.3 1712.8,813.7 1713.4,799.3 1716.2,777.7 1714.2,767.6 1715.7,756.1 1721.4,748.9 1731.5,743.1 1744.5,727.3 1753.1,714.3 1761.7,710.0 1766.1,699.9 1773.3,689.8 1779.0,686.9 1787.7,688.4 1796.3,679.7 1804.9,681.2 1810.7,692.7 1819.4,704.2 1826.6,715.7 1833.8,730.1 1836.6,750.3 1849.6,751.7 1849.6,515.6 1504.0,515.6"/>
<polygon points="1718.5,819.4 1724.3,828.1 1731.5,839.6 1732.9,851.1 1722.9,858.3 1717.1,848.2 1715.1,833.8"/>
<polygon points="1499.6,643.7 1496.8,655.2 1504.0,666.8 1519.8,672.5 1533.6,686.9 1525.6,704.2 1519.8,715.7 1511.2,722.9 1506.9,731.6 1499.6,733.0 1491.0,740.2 1482.4,744.5 1473.7,746.0 1468.0,756.1 1447.8,767.6 1433.4,774.8 1416.1,783.4 1398.8,786.9 1394.5,789.2 1318.2,789.2 1318.2,515.6 1504.0,515.6 1504.0,633.6"/>
<polygon points="981.6,540.2 976.0,534.9 971.2,527.5 963.0,529.6 954.0,529.6 956.0,514.8 950.4,511.7 953.9,502.1 955.6,495.8 957.5,486.3 956.1,475.7 953.2,467.2 960.5,461.9 966.2,457.7 981.3,459.8 997.2,460.9 1013.1,461.9 1015.5,460.9 1018.0,449.2 1018.8,438.7 1018.0,432.3 1011.0,424.9 1010.2,420.7 1000.9,416.4 993.0,415.4 990.0,409.0 997.1,405.9 1004.1,404.8 1011.9,406.4 1015.0,406.9 1015.1,396.3 1017.4,395.3 1018.9,398.4 1028.3,397.4 1036.0,393.2 1039.9,384.7 1042.2,381.5 1046.8,380.5 1052.1,377.8 1055.2,376.2 1058.2,370.9 1062.7,365.6 1063.8,360.9 1068.7,358.2 1074.8,356.1 1080.8,355.1 1088.4,353.0 1092.9,350.8 1095.1,348.7 1093.5,345.5 1092.5,339.2 1090.1,333.9 1088.4,328.6 1088.2,322.3 1091.8,317.0 1101.3,311.7 1106.5,310.6 1106.0,318.0 1104.7,322.3 1109.3,324.4 1104.2,327.6 1102.9,333.9 1100.0,337.1 1099.4,341.3 1103.3,344.5 1110.9,345.5 1110.3,349.8 1114.9,349.8 1119.4,347.7 1122.3,344.5 1129.0,343.4 1132.3,348.7 1136.2,350.8 1145.2,347.7 1152.6,344.5 1156.2,342.4 1166.0,341.3 1169.3,345.5 1176.1,345.5 1178.8,340.3 1182.5,339.2 1186.4,331.8 1185.0,323.3 1187.3,314.9 1188.5,311.7 1195.8,310.1 1200.8,315.9 1206.3,318.0 1209.7,314.9 1209.0,307.5 1209.3,303.2 1201.7,301.1 1201.1,294.8 1209.7,292.1 1219.1,290.5 1234.0,291.6 1237.3,288.4 1242.2,286.3 1249.7,287.4 1240.2,282.1 1237.6,278.9 1229.1,281.0 1218.2,282.1 1211.1,284.2 1196.8,288.4 1191.1,282.1 1183.5,280.0 1183.9,270.4 1181.5,262.0 1181.9,253.5 1190.3,246.1 1201.0,236.6 1206.9,233.4 1205.3,228.1 1199.2,224.9 1192.2,224.9 1183.4,227.1 1178.9,230.2 1177.6,236.6 1172.4,246.1 1161.6,251.4 1156.6,258.8 1153.2,260.9 1151.7,268.3 1153.4,278.9 1163.4,284.2 1166.6,288.4 1161.1,293.7 1157.8,299.0 1151.3,301.1 1151.1,309.6 1150.4,321.2 1147.7,326.5 1144.7,327.0 1138.0,327.6 1135.3,332.9 1131.6,335.0 1125.6,335.0 1124.7,332.9 1123.0,328.6 1121.3,325.4 1124.2,322.3 1118.7,317.0 1116.2,310.6 1111.4,303.2 1110.3,296.9 1105.7,292.6 1102.9,296.9 1097.8,297.9 1094.3,303.2 1087.0,306.4 1079.6,307.5 1071.3,302.2 1068.9,297.9 1065.9,292.6 1066.4,282.1 1064.0,275.7 1063.8,266.2 1072.3,259.8 1079.3,254.6 1090.5,249.3 1096.8,247.2 1101.4,240.8 1106.7,234.5 1113.2,228.1 1115.6,222.8 1119.3,217.5 1126.9,209.1 1133.0,201.7 1116.6,202.7 1129.6,195.3 1135.9,191.1 1145.8,189.0 1155.2,183.7 1164.6,179.4 1174.1,176.3 1184.9,173.1 1197.8,167.8 1210.6,168.9 1219.6,171.0 1234.8,176.3 1229.1,183.7 1242.3,182.6 1251.0,187.9 1264.1,189.0 1274.8,191.1 1290.4,198.5 1302.4,204.8 1313.3,214.4 1309.6,218.6 1296.5,221.8 1278.5,219.6 1267.3,216.5 1255.0,211.2 1262.7,244.0 1348.2,244.0 1468.7,286.3 1515.9,519.1 1444.6,603.7 1365.3,656.6 1279.1,624.9 1110.9,603.7 986.1,572.0"/>
<polygon points="983.3,391.6 988.8,388.9 995.0,388.4 1000.4,386.8 1004.3,384.7 1012.0,385.8 1017.5,384.2 1021.3,384.2 1029.8,384.2 1035.2,382.0 1038.3,379.4 1038.3,377.3 1032.9,376.8 1034.4,373.1 1037.5,371.5 1040.5,365.6 1037.4,360.9 1031.3,360.9 1029.8,359.3 1030.2,355.1 1028.3,354.0 1026.7,348.7 1023.0,344.5 1018.4,342.9 1016.9,339.2 1015.4,332.9 1012.5,329.7 1008.7,328.6 1003.4,328.6 1008.0,325.4 1006.5,323.3 1011.8,317.0 1014.1,312.8 1012.6,310.6 1002.2,310.6 996.9,312.2 998.5,308.5 1004.5,303.2 1005.3,300.6 1002.3,301.1 990.4,301.1 988.1,305.3 984.3,311.7 984.9,314.9 983.3,320.2 981.1,321.2 985.5,325.4 985.3,332.9 983.7,336.0 986.8,331.8 990.6,331.8 992.1,333.9 989.7,339.2 988.9,342.4 994.2,341.3 1000.3,340.3 1001.8,340.3 1000.2,344.5 1003.2,348.7 1006.2,348.7 1004.7,353.0 1003.9,356.1 1001.6,356.7 994.7,356.1 993.9,359.3 991.6,362.5 996.2,362.5 996.1,366.7 991.4,369.9 986.8,372.0 988.3,374.1 994.4,374.1 995.2,375.7 1002.9,377.3 1006.7,375.2 1004.4,379.4 998.2,379.4 995.1,379.4 992.8,382.6 988.8,386.8"/>
<polygon points="978.4,368.8 973.8,369.9 966.0,373.1 962.1,375.2 953.6,376.2 949.1,373.1 947.7,369.9 952.4,367.8 951.7,364.6 955.7,360.4 958.8,358.2 951.3,356.1 952.2,350.8 950.8,347.7 959.2,346.6 963.0,346.6 961.6,342.4 964.0,338.1 971.7,335.0 975.4,337.1 981.4,337.1 984.4,341.3 985.8,344.5 982.7,347.7 981.1,350.8 981.0,356.1 981.6,361.4 980.0,365.6"/>
<polygon points="1088.8,76.8 1103.2,74.7 1120.6,74.7 1133.0,78.9 1143.5,72.6 1157.6,70.5 1169.9,73.6 1160.0,82.1 1152.1,87.4 1153.3,93.7 1139.5,101.1 1131.9,110.7 1119.0,106.4 1112.0,99.0 1099.3,92.7 1092.6,85.3"/>
<polygon points="1156.1,92.7 1171.3,93.7 1175.6,100.1 1164.2,103.3 1154.5,100.1"/>
</g>
<g fill="#6dbef0" stroke="none">
<polygon points="981.6,540.2 991.5,532.8 1007.9,531.8 1010.3,532.8 1020.2,523.3 1029.1,511.7 1025.1,503.2 1033.9,490.5 1045.2,483.1 1053.9,473.6 1052.3,465.1 1059.4,460.9 1070.6,463.0 1075.4,465.1 1085.7,458.8 1098.2,451.3 1105.5,454.5 1109.6,460.9 1111.4,467.2 1122.1,475.7 1126.3,479.9 1136.9,485.2 1141.9,489.4 1146.8,491.6 1151.1,497.9 1157.1,505.3 1154.9,519.1 1158.6,520.1 1162.2,510.6 1167.0,508.5 1160.9,500.0 1166.2,492.6 1173.0,497.9 1176.3,500.0 1177.0,496.8 1172.6,491.6 1163.5,486.3 1157.5,477.8 1141.2,471.4 1135.1,459.8 1127.7,454.5 1126.6,445.0 1124.8,440.8 1136.6,438.7 1137.7,447.1 1141.5,441.8 1148.4,454.5 1158.3,460.9 1172.3,470.4 1180.6,475.7 1183.5,484.1 1184.1,493.7 1189.4,502.1 1195.4,508.5 1199.1,515.9 1201.1,523.3 1204.8,531.8 1210.8,536.0 1214.8,534.9 1217.4,536.0 1215.2,526.5 1219.2,525.4 1223.0,522.2 1223.5,516.9 1214.1,509.5 1213.0,504.2 1210.1,497.9 1212.2,491.6 1216.5,495.8 1220.6,497.9 1224.6,496.8 1221.0,491.6 1224.0,488.4 1236.2,489.4 1239.0,494.7 1239.3,499.0 1244.6,504.2 1246.1,514.8 1249.9,522.2 1251.3,529.6 1258.0,531.8 1265.5,533.9 1277.6,531.8 1289.3,534.9 1297.8,539.2 1310.3,531.8 1320.3,533.9 1321.7,540.2 1321.8,550.8 1320.3,562.4 1317.2,574.1 1315.4,582.5 1312.6,589.9 1301.9,592.1 1296.0,589.9 1285.0,587.8 1276.9,591.0 1268.8,594.2 1253.5,588.9 1236.8,586.8 1226.6,582.5 1218.8,576.2 1207.0,573.0 1194.2,581.5 1193.9,594.2 1187.5,600.5 1173.1,594.2 1160.5,589.9 1153.5,579.4 1136.7,573.0 1122.6,570.9 1115.8,564.6 1110.8,561.4 1116.3,552.9 1117.8,544.5 1114.2,536.0 1118.2,529.6 1110.7,527.5 1101.0,528.6 1091.2,530.7 1076.5,530.7 1069.2,531.8 1052.8,531.8 1038.1,534.9 1022.6,543.4 1019.3,547.6 1011.1,549.7 1002.9,547.6 994.6,548.7 984.0,544.5 983.2,541.3 979.1,542.3"/>
<polygon points="1252.2,477.8 1260.8,485.2 1278.6,486.3 1294.6,476.7 1309.0,476.7 1319.4,484.1 1336.8,488.4 1349.6,487.3 1361.7,481.0 1359.9,472.5 1349.4,465.1 1337.8,455.6 1324.3,448.2 1317.3,442.9 1308.0,445.0 1297.6,451.3 1292.6,449.2 1284.6,440.8 1292.5,433.4 1279.7,431.2 1271.5,428.1 1264.4,436.5 1262.7,442.9 1255.7,453.5 1251.0,464.0 1247.6,471.4"/>
<polygon points="1317.2,441.8 1324.2,440.8 1327.4,434.4 1336.2,422.8 1327.5,422.8 1316.2,427.0 1304.9,431.2 1302.4,436.5 1310.7,440.8"/>
<polygon points="1239.0,494.7 1245.3,492.6 1253.5,493.7 1263.7,490.5 1261.0,486.8 1252.9,486.8 1246.7,489.4"/>
<polygon points="1298.7,604.8 1301.1,615.3 1309.5,629.1 1313.4,637.6 1317.4,647.1 1323.2,658.7 1328.0,668.2 1330.3,677.8 1341.1,688.3 1344.2,698.9 1345.0,713.7 1348.1,724.3 1357.0,730.7 1364.0,751.8 1373.0,762.4 1381.8,767.7 1392.7,781.4 1399.0,786.7 1401.7,789.9 1403.3,786.7 1399.6,780.4 1397.3,767.7 1394.2,755.0 1392.9,746.5 1389.8,735.9 1382.4,725.4 1375.7,713.7 1365.7,702.1 1360.1,693.6 1358.6,683.0 1350.9,669.3 1343.5,659.8 1339.5,650.3 1333.9,641.8 1325.5,630.1 1320.9,623.8 1318.9,618.5 1319.8,609.0 1319.0,609.0 1315.9,624.9 1314.4,627.5 1308.9,619.6 1303.2,610.0 1299.4,603.7"/>
<polygon points="1427.9,603.7 1434.2,600.5 1440.3,602.6 1446.3,603.7 1452.4,614.3 1459.4,625.9 1469.3,632.3 1477.5,638.6 1487.8,640.7 1498.2,635.4 1505.8,635.4 1509.9,642.8 1502.7,642.3 1500.5,649.2 1494.2,653.4 1487.4,661.9 1475.9,666.1 1465.9,667.2 1462.8,660.8 1462.9,653.4 1459.6,645.0 1456.0,651.3 1456.7,658.7 1451.8,651.3 1449.0,639.7 1444.2,633.3 1436.7,624.9 1432.6,617.5 1428.5,610.0 1427.2,604.8"/>
<polygon points="1307.2,209.8 1318.9,218.8 1306.6,229.9 1290.5,247.2 1273.8,253.9 1267.1,247.2 1270.5,230.5 1243.8,212.2 1250.4,211.5 1270.5,218.8 1290.5,220.5 1303.9,218.8"/>
</g>
<g fill="#61a0c7" stroke="none">
<polygon points="1128.4,519.1 1136.5,516.9 1154.3,515.9 1150.7,526.5 1150.9,532.8 1144.3,530.7 1129.4,523.3"/>
<polygon points="1093.5,488.4 1101.5,485.2 1106.6,492.6 1105.3,506.4 1100.5,508.5 1095.6,507.4 1096.2,497.9"/>
<polygon points="1096.4,472.5 1102.6,466.2 1103.7,475.7 1101.5,483.1 1097.4,479.9"/>
<polygon points="1221.2,545.5 1226.1,544.5 1239.4,547.6 1243.6,548.7 1242.9,550.8 1231.4,551.9 1221.4,548.7"/>
<polygon points="1293.0,550.8 1297.6,546.6 1311.3,543.4 1307.0,550.8 1299.1,555.0"/>
<polygon points="1046.9,502.1 1052.6,499.0 1055.0,501.1 1052.6,505.3 1047.7,504.2"/>
<polygon points="1111.1,331.8 1119.9,327.6 1122.4,331.8 1119.6,337.1 1116.0,339.2 1112.0,336.0"/>
<polygon points="1101.4,333.9 1108.1,332.9 1109.1,338.1 1103.9,339.2"/>
<polygon points="1110.8,341.3 1117.6,341.3 1116.9,343.4 1110.8,342.9"/>
<polygon points="1162.7,314.9 1168.2,308.5 1169.7,309.6 1166.5,315.9 1163.7,319.1"/>
<polygon points="1150.7,326.5 1155.2,314.9 1153.7,314.9 1150.4,322.3"/>
<polygon points="1189.4,304.3 1194.3,301.1 1199.5,301.1 1198.3,304.3 1192.6,307.5"/>
<polygon points="1191.0,297.9 1196.1,296.4 1197.7,298.5 1194.2,300.1"/>
<polygon points="1214.1,509.5 1217.3,508.5 1224.1,512.7 1227.7,518.0 1224.4,518.0 1219.3,513.8"/>
<polygon points="1254.3,538.1 1258.2,535.5 1257.8,540.2 1255.4,541.3"/>
<polygon points="1237.3,505.3 1243.0,504.8 1242.4,508.5 1237.5,507.4"/>
</g>
<g fill="none" stroke="#6dbef0" stroke-width="1.1" stroke-opacity="0.65">
<polyline points="78.5,184.1 0.0,279.2"/>
<polyline points="5.3,285.2 10.6,296.9 30.0,288.4 37.5,303.2 39.6,322.3 49.4,329.7 43.2,339.2"/>
<polyline points="69.7,402.7 286.5,402.7 290.3,399.5 289.8,405.9 302.0,406.9 312.0,412.2 327.4,413.3 336.9,410.1 360.1,424.9 365.2,429.1 368.0,433.4 368.0,436.5 374.5,441.8 373.1,459.8 369.1,466.2 367.3,470.4 361.5,474.6 361.0,476.7 365.0,479.9 395.8,468.3 396.3,463.0 395.9,461.4 415.4,459.8 420.8,453.5 432.9,446.1 435.5,445.0 460.9,445.0 467.4,440.8 473.2,432.3 476.8,427.0 484.8,419.1 486.6,421.7 492.4,420.1 495.0,422.8 491.8,437.6 494.0,441.8 496.3,446.1"/>
<polyline points="57.5,577.2 76.6,577.2 77.1,575.1 104.0,589.9 128.2,589.9 129.4,584.7 143.5,584.7 153.1,597.4 154.9,607.9 164.4,614.3 172.0,605.8 181.2,605.8 187.1,621.7 192.2,630.1 193.3,641.8 206.7,647.1"/>
<polyline points="234.5,767.7 236.9,761.3 240.5,750.8 251.7,750.8 244.4,739.1 248.5,732.8 263.9,732.8 272.5,725.4"/>
<polyline points="412.4,796.3 397.8,810.0 401.0,832.2 403.9,847.0 420.3,847.0 426.1,856.6 443.4,856.6 439.5,873.5 446.0,908.4"/>
<polyline points="508.3,831.2 498.4,844.9 496.2,858.7 501.2,866.1 489.7,877.7 472.4,877.7 467.8,894.6 477.3,897.8 459.0,912.6 446.8,908.4"/>
<polyline points="532.6,858.7 530.4,885.1 537.2,901.0"/>
<polyline points="559.5,859.7 554.7,886.2 553.7,896.8 568.4,897.8 579.5,878.3"/>
<polyline points="501.2,866.1 508.0,873.5 510.2,903.1 516.3,907.3 537.2,901.0 553.7,896.8"/>
<polyline points="446.8,908.4 421.7,909.5 425.1,932.7 420.4,965.5"/>
<polyline points="343.6,906.3 353.1,912.6 373.9,922.2 381.7,926.4 393.1,945.4 417.5,947.5 420.4,965.5"/>
<polyline points="330.8,957.1 330.2,967.7 342.5,974.0 347.3,957.1 362.8,948.6 373.9,931.2 373.9,922.2"/>
<polyline points="420.4,965.5 395.5,976.1 387.6,999.4 397.0,1017.4 403.5,1026.9 417.1,1021.6 417.9,1037.5 426.6,1037.5"/>
<polyline points="426.6,1037.5 435.2,1053.3 433.5,1066.0 434.7,1083.0 431.1,1092.5 432.3,1106.2 425.4,1115.2"/>
<polyline points="426.6,1037.5 437.8,1037.5 462.2,1023.7 464.1,1044.9 472.3,1053.3 506.7,1067.1 511.8,1092.5 526.4,1093.6 529.0,1105.2 533.7,1111.5 532.6,1130.6 531.7,1134.3"/>
<polyline points="432.3,1106.2 442.3,1122.1 444.2,1142.2 451.4,1162.3 457.4,1162.3 463.9,1151.7 482.0,1162.3 494.9,1156.0 500.0,1138.0 522.8,1125.3 531.7,1134.3"/>
<polyline points="531.7,1134.3 535.6,1154.9 554.5,1157.0 558.7,1175.0 568.0,1175.5 567.0,1191.9"/>
<polyline points="494.9,1156.0 511.0,1172.9 541.4,1188.8 535.2,1208.9 554.7,1211.0 567.0,1191.9"/>
<polyline points="567.0,1191.9 575.7,1198.3 575.4,1208.3 560.1,1221.6 547.3,1240.6"/>
<polyline points="547.3,1240.6 562.3,1248.0 581.3,1260.7 586.7,1277.6"/>
<polyline points="547.3,1240.6 545.4,1264.9 545.8,1279.8"/>
<polyline points="451.4,1162.3 457.9,1175.0 448.8,1183.5 453.3,1205.7 443.8,1222.6 445.2,1249.1 449.0,1273.4 452.4,1284.0 450.2,1304.1 450.2,1330.5 448.5,1346.4 452.4,1365.5 458.1,1391.9 464.8,1407.8 463.2,1434.2 457.8,1450.1 469.0,1457.5 474.8,1471.3 503.3,1475.0"/>
<polyline points="502.6,1478.1 508.6,1501.9"/>
<polyline points="1009.4,549.7 1013.4,572.0 1017.6,580.4 997.6,593.1 985.8,603.7 954.9,617.5 954.7,632.3"/>
<polyline points="916.7,628.4 954.7,628.4 954.5,646.0 926.4,646.0 925.8,672.5 917.3,677.8 916.9,695.4 883.3,695.4"/>
<polyline points="954.7,632.3 987.0,656.6 972.6,656.6 980.3,746.5 979.4,757.1 947.6,757.1 935.6,758.2 928.7,756.1 922.6,764.5"/>
<polyline points="885.9,751.3 904.9,745.5 912.5,750.8 922.6,764.5 924.1,783.6 929.2,789.9"/>
<polyline points="987.0,656.6 1037.3,697.9 1037.7,702.1 1054.8,711.6 1055.7,720.1 1063.8,718.5 1077.0,715.3 1129.0,672.5 1106.7,643.9 1110.7,636.5 1109.6,621.7 1106.7,601.6 1102.6,581.5 1089.4,563.5 1095.8,554.0 1096.1,530.7"/>
<polyline points="1106.7,601.6 1113.2,594.2 1112.2,585.7 1122.8,578.3 1122.6,570.4"/>
<polyline points="1235.1,586.8 1239.9,688.3 1341.1,688.3"/>
<polyline points="1129.0,672.5 1148.0,682.0 1154.7,677.8 1232.4,714.8 1232.2,709.5 1240.7,709.5 1239.9,688.3"/>
<polyline points="1232.4,714.8 1233.6,755.0 1224.2,757.1 1221.1,771.9 1218.0,786.7 1225.2,805.8"/>
<polyline points="1154.7,677.8 1159.5,698.9 1163.0,706.3 1160.4,742.3 1144.5,767.7 1143.7,776.2 1130.9,782.5 1105.1,785.7 1087.8,783.6 1062.8,778.3 1058.6,797.3"/>
<polyline points="1063.8,718.5 1063.9,742.3 1057.6,757.1 1035.2,763.5 1029.2,762.4 1036.1,779.3 1046.5,789.9 1058.6,797.3"/>
<polyline points="1029.2,762.4 1010.3,770.9 1001.7,776.2 989.6,786.7 981.8,796.3 980.0,811.1 973.9,809.0 958.4,813.2 955.8,804.7 949.9,789.9 929.2,789.9"/>
<polyline points="1000.6,867.1 999.8,849.2 1005.9,834.3 1003.3,821.6 1003.3,805.8 1026.6,803.7 1035.3,804.7 1046.5,789.9"/>
<polyline points="980.0,811.1 987.7,818.5 1003.3,818.5"/>
<polyline points="1037.9,856.6 1032.3,842.8 1031.4,828.0 1027.5,809.0 1026.6,803.7"/>
<polyline points="1041.6,855.5 1041.3,825.9 1034.4,812.1 1035.3,804.7"/>
<polyline points="1050.9,853.4 1051.3,831.2 1058.6,813.2 1058.6,797.3"/>
<polyline points="883.5,790.4 898.2,787.3 909.4,787.3 909.3,797.3 898.0,805.8"/>
<polyline points="912.5,825.4 930.7,815.3 935.8,824.8 938.4,831.7 927.9,848.1"/>
<polyline points="938.4,831.7 946.1,842.8 953.9,840.7 955.6,854.4 963.4,861.9 962.0,875.1"/>
<polyline points="953.9,840.7 960.9,825.9 958.4,813.2"/>
<polyline points="1101.2,871.4 1108.1,853.4 1123.7,852.3 1129.7,846.0 1141.6,820.6 1153.5,799.4 1149.0,784.6 1143.7,776.2"/>
<polyline points="1149.0,784.6 1157.9,806.8 1159.7,815.3 1148.5,816.4 1161.7,841.8 1153.2,857.6 1155.0,872.4 1168.1,897.8"/>
<polyline points="1161.7,841.8 1188.5,836.5 1203.9,824.8 1225.2,805.8 1232.5,825.9 1246.6,843.9 1265.1,867.1"/>
<polyline points="1112.5,896.8 1125.6,897.8 1142.9,897.8 1168.1,897.8"/>
<polyline points="1112.6,910.5 1125.6,910.5 1125.6,897.8"/>
<polyline points="1142.9,897.8 1153.4,910.5 1148.2,921.1 1153.4,927.4 1152.5,942.3 1136.0,946.5 1123.8,962.4"/>
<polyline points="1133.2,982.5 1140.2,969.8 1152.4,972.4 1160.2,966.6 1168.1,942.3 1182.0,926.4 1182.9,910.5 1188.9,884.1 1188.8,875.6 1196.6,867.1 1221.8,877.7 1239.1,867.1 1246.9,868.2 1265.1,867.1"/>
<polyline points="1235.1,829.1 1243.5,812.1 1269.6,821.6 1286.7,812.1 1298.0,817.4 1307.1,797.3 1313.8,792.0 1313.4,807.9 1322.3,820.6 1322.5,830.1"/>
<polyline points="1322.5,830.1 1323.8,809.0 1330.3,796.3 1338.6,786.7 1341.5,769.8 1340.3,761.3 1344.6,741.2 1357.8,730.7"/>
<polyline points="1341.5,769.8 1353.3,763.5 1362.9,766.6 1373.3,768.7 1386.8,783.6 1393.0,788.8 1388.4,804.7 1397.9,805.2 1400.3,799.4"/>
<polyline points="1397.9,805.2 1401.8,819.5 1408.1,825.9 1434.3,836.5 1443.0,836.5 1417.7,868.2 1400.4,871.4 1390.9,879.0 1381.4,876.7 1370.2,885.1 1358.0,883.0 1347.5,874.5 1338.8,872.4"/>
<polyline points="1390.9,879.0 1383.3,891.5 1383.4,930.6 1388.1,938.6"/>
<polyline points="1338.8,872.4 1338.7,865.0 1322.0,850.2 1313.2,838.6 1322.5,830.1"/>
<polyline points="1338.8,872.4 1322.4,876.7 1318.1,881.4 1296.4,883.0 1294.7,884.1 1285.1,872.4 1265.1,867.1"/>
<polyline points="1322.4,876.7 1326.8,888.3 1331.3,903.1 1322.6,917.9 1321.7,931.7 1354.6,953.9 1353.7,958.1 1367.4,970.8"/>
<polyline points="1294.7,884.1 1299.1,897.8 1287.9,912.6 1284.4,926.4 1284.4,935.9 1279.1,949.7 1281.6,968.2 1284.0,989.9 1294.1,1007.9"/>
<polyline points="1284.4,935.9 1292.2,932.3 1321.7,931.7"/>
<polyline points="1292.2,932.3 1295.2,945.4 1291.3,951.8 1287.7,967.7 1281.6,968.2"/>
<polyline points="1294.1,1007.9 1277.6,1011.0 1273.1,1019.5 1274.2,1047.0 1284.5,1050.2 1284.1,1063.4 1277.3,1062.9 1272.3,1053.3 1262.2,1045.9 1245.9,1039.6 1238.1,1041.7 1234.7,1036.4 1220.0,1039.6 1216.3,998.3 1205.0,996.2 1195.4,1005.7 1179.8,1006.8 1171.4,983.5 1140.2,983.5 1133.2,982.5"/>
<polyline points="1234.7,1036.4 1234.3,1058.6 1217.1,1058.6 1216.3,1092.5 1227.9,1107.3"/>
<polyline points="1128.6,1103.6 1147.4,1105.2 1185.1,1105.2 1207.2,1111.5 1227.9,1107.3 1243.7,1109.4"/>
<polyline points="1207.1,1114.7 1205.9,1153.9 1197.4,1153.9 1195.0,1221.6 1173.1,1224.7 1165.2,1223.7"/>
<polyline points="1196.5,1183.0 1202.4,1204.6 1221.6,1188.8 1242.5,1193.0 1256.2,1171.3 1277.2,1156.0 1293.3,1158.1 1298.0,1180.3 1296.3,1195.1 1304.1,1205.2"/>
<polyline points="1277.2,1156.0 1263.5,1138.0 1251.3,1124.2 1243.7,1109.4 1258.6,1111.0 1275.6,1090.4 1288.6,1086.1 1309.6,1097.8 1307.3,1111.5 1309.1,1130.6 1304.0,1146.5 1293.3,1158.1"/>
<polyline points="1294.1,1007.9 1312.0,1020.6 1321.5,1021.6 1326.1,1043.8 1342.4,1044.9 1359.8,1041.7 1376.5,1032.2"/>
<polyline points="1312.0,1020.6 1315.1,1035.4 1312.0,1054.4 1309.1,1065.0 1313.2,1069.2 1287.1,1079.8 1288.6,1086.1"/>
<polyline points="1313.2,1069.2 1324.2,1074.5 1334.8,1090.4 1330.0,1102.0"/>
<polyline points="956.1,477.8 961.8,475.7 974.5,477.8 977.7,481.0 971.9,487.3 970.9,501.1 966.8,502.1 970.6,516.9 967.1,527.5"/>
<polyline points="1013.1,461.9 1033.1,468.3 1053.1,472.5"/>
<polyline points="1046.8,380.5 1060.1,392.1 1072.6,397.4 1077.2,397.4 1091.4,402.7 1087.1,417.5 1074.8,431.2 1082.8,435.5 1079.8,443.9 1088.7,454.5 1087.2,457.7"/>
<polyline points="1082.4,357.2 1081.2,368.8 1073.6,373.1 1074.6,384.7 1077.2,397.4"/>
<polyline points="1053.7,377.3 1073.7,379.4"/>
<polyline points="1135.5,350.8 1139.2,364.6 1142.4,381.5 1121.2,388.9 1135.1,404.8 1129.4,418.5 1109.8,418.5 1102.8,418.5 1087.1,417.5"/>
<polyline points="1142.4,381.5 1158.2,387.9 1173.6,397.4 1203.4,401.6 1213.6,383.6 1209.1,376.2 1208.1,364.6 1209.1,349.8 1200.4,345.5 1176.1,345.5"/>
<polyline points="1110.1,425.4 1123.4,423.8 1135.4,429.1 1154.2,427.0 1159.3,406.9 1144.3,402.7 1135.1,404.8"/>
<polyline points="1082.8,435.5 1098.6,436.5 1110.1,425.4 1102.8,418.5"/>
<polyline points="1159.3,406.9 1173.6,397.4"/>
<polyline points="1154.2,427.0 1175.9,435.5 1187.6,433.4 1206.6,413.3 1203.4,401.6"/>
<polyline points="1206.6,413.3 1235.3,410.1 1250.5,439.7 1262.7,442.9"/>
<polyline points="1187.6,433.4 1207.7,449.2 1206.5,466.2 1234.6,457.7 1255.4,458.8"/>
<polyline points="1209.1,376.2 1262.4,378.3 1271.5,369.9 1291.8,373.1 1302.1,387.9 1322.2,393.2 1338.9,396.3 1338.3,415.4 1327.5,422.8"/>
<polyline points="1271.5,369.9 1276.8,356.1 1260.6,341.3 1260.4,332.9 1239.4,327.0 1227.9,331.8 1217.4,348.7 1209.1,349.8"/>
<polyline points="1239.4,327.0 1234.2,313.8 1231.8,312.2 1233.5,293.7"/>
<polyline points="1231.8,312.2 1209.1,308.5"/>
<polyline points="1227.9,331.8 1185.7,327.6"/>
<polyline points="1231.2,280.5 1254.9,255.6 1238.6,226.0 1228.5,213.3 1222.3,199.5 1223.2,190.6 1229.1,183.7"/>
<polyline points="1196.7,224.9 1189.3,202.7 1167.0,190.6 1201.4,190.0 1201.6,183.7 1215.0,180.5 1223.2,190.6"/>
<polyline points="1112.2,296.9 1116.6,275.7 1114.0,248.2 1124.6,237.6 1128.8,221.8 1140.4,206.9 1150.8,196.4 1167.0,190.6"/>
<polyline points="1411.4,436.5 1392.9,409.0 1399.6,392.1 1418.1,374.1 1448.7,381.5 1479.6,381.5 1502.4,383.6 1494.1,349.8 1520.5,345.5 1543.1,339.2 1561.9,336.0 1591.0,354.0 1610.7,345.5 1621.6,357.2 1645.2,383.6 1670.9,381.5 1686.0,391.0 1707.4,401.6"/>
<polyline points="1707.4,401.6 1722.8,392.1 1738.2,384.7 1756.7,386.8 1782.6,394.7 1787.6,386.8 1794.4,373.1 1814.8,378.3 1818.2,385.8 1853.4,388.9 1864.2,393.2 1888.9,401.1 1905.8,396.3 1912.2,388.9 1932.9,394.2"/>
<polyline points="1932.9,394.2 1942.7,397.4 1951.1,378.3 1946.7,364.6 1949.6,357.2 1969.2,355.1 1991.9,364.6 2016.7,394.2 2045.8,403.7 2053.5,416.4 2082.4,409.0 2082.7,443.9 2072.3,455.6 2074.1,466.2 2073.4,472.5"/>
<polyline points="1707.4,401.6 1721.8,412.2 1743.9,431.2 1747.3,442.9 1785.7,452.4 1798.6,469.3 1842.5,471.4 1866.0,477.8 1901.7,471.4 1918.2,458.8 1914.3,443.9 1942.1,440.8 1970.8,427.0 1932.2,414.3 1932.9,394.2"/>
<polyline points="1707.4,401.6 1697.5,409.0 1700.3,421.7 1681.0,440.8 1664.4,447.1 1670.5,474.6 1646.7,487.3 1624.4,500.0 1622.8,504.2 1638.8,527.5 1641.7,529.6"/>
<polyline points="1670.5,474.6 1659.2,468.3 1627.0,467.2 1616.1,472.5 1595.7,474.6 1582.2,483.1 1564.1,485.2 1556.1,472.5 1555.6,466.2 1512.9,451.3 1490.7,438.7 1471.3,445.0 1477.9,484.1 1460.1,473.6 1448.9,478.9"/>
<polyline points="1477.9,484.1 1496.1,468.3 1509.9,483.1 1525.7,486.3 1546.7,509.0 1569.9,525.4"/>
<polyline points="1529.6,544.5 1539.2,547.6 1555.5,537.0 1569.9,525.4 1582.9,529.6 1594.0,523.3 1607.2,515.9 1612.9,532.8 1638.8,527.5"/>
<polyline points="1467.2,525.9 1492.6,515.9 1511.0,524.3 1528.0,533.9 1529.6,544.5 1526.9,564.6 1533.4,587.8 1541.6,593.1 1535.7,605.3 1545.9,619.6 1553.8,622.7 1559.4,634.4 1559.2,639.7 1547.5,654.5"/>
<polyline points="1535.7,605.3 1549.7,610.0 1580.7,604.8 1580.0,594.2 1602.5,583.6 1608.4,568.8 1603.9,561.4 1613.7,560.9 1614.2,540.2 1612.9,532.8"/>
<polyline points="1605.0,670.4 1628.7,662.9 1617.3,646.0 1618.0,625.9 1637.2,614.3 1643.3,599.5 1647.9,592.1 1644.2,575.1 1637.7,561.4 1658.9,546.6 1666.0,545.5"/>
<polyline points="1666.0,545.5 1678.4,558.2 1679.2,576.2 1682.1,589.9 1702.8,601.6 1766.4,625.9 1774.2,632.3 1779.3,622.7 1800.3,628.0 1813.5,613.2 1829.6,610.0 1843.4,622.7"/>
<polyline points="1702.8,601.6 1697.8,616.4 1707.7,620.6 1727.0,631.2 1739.1,633.3 1749.4,639.7 1769.1,641.8 1766.4,625.9"/>
<polyline points="1774.2,632.3 1776.0,637.6 1801.1,637.0 1800.3,628.0"/>
<polyline points="1783.8,688.3 1779.0,667.2 1771.6,657.7 1771.6,641.8 1784.1,646.0 1785.7,653.4 1807.8,656.6 1799.3,667.2 1803.5,677.8 1809.1,670.4 1815.4,695.7 1813.7,702.1"/>
<polyline points="1815.4,695.7 1819.2,686.2 1817.9,667.2 1826.5,652.4 1828.3,638.6 1841.5,628.0 1843.4,622.7 1855.9,629.1 1859.3,647.1 1852.1,658.7 1864.3,666.1 1870.3,687.3 1878.9,693.6 1887.8,693.1"/>
<polyline points="1887.8,693.1 1880.7,705.8 1872.2,711.6 1862.9,725.4 1875.9,747.6 1871.3,760.3 1881.2,781.4 1886.8,796.3 1880.3,813.2 1879.2,815.5"/>
<polyline points="1887.8,693.1 1893.9,696.8 1894.4,684.1 1909.5,683.0 1920.0,674.6 1932.6,678.8 1933.3,688.3 1946.0,693.1"/>
<polyline points="1894.4,684.1 1913.1,700.0 1920.3,713.7 1914.7,716.9 1927.0,725.4 1940.3,741.2 1951.5,762.4 1952.3,765.6 1955.3,791.0 1940.5,798.4 1946.2,804.7 1935.0,805.2 1929.9,811.1"/>
<polyline points="1880.7,705.8 1886.3,714.8 1892.2,714.8 1894.2,735.9 1901.0,728.5 1911.8,726.4 1924.2,735.9 1926.5,747.6 1934.3,755.0 1935.0,768.7 1952.3,765.6"/>
<polyline points="1915.4,797.8 1909.2,777.2 1913.7,770.9 1932.5,769.8 1935.0,768.7"/>
<polyline points="1894.8,852.9 1903.8,860.8 1912.2,855.5"/>
<polyline points="1978.7,899.9 1997.9,910.5 2021.3,905.2 2025.4,891.5 2033.6,875.6 2047.5,876.7"/>
<polyline points="2251.0,948.6 2247.0,1017.4"/>
<polyline points="2059.5,521.2 2070.4,512.7"/>
<polyline points="2032.8,497.9 2046.2,478.9 2057.4,483.1 2066.2,472.5 2073.4,472.5"/>
<polyline points="1322.5,540.2 1327.4,531.8 1338.1,531.8 1373.3,528.6 1393.1,527.5 1383.9,504.2 1390.0,501.1"/>
<polyline points="1393.1,527.5 1404.7,542.3 1401.9,561.4 1408.7,570.9 1424.3,593.1 1432.5,604.2"/>
<polyline points="1373.3,528.6 1366.4,552.9 1348.0,567.7 1351.0,582.5 1362.7,583.6 1376.8,592.1 1401.2,612.2 1416.3,613.2 1425.4,603.7"/>
<polyline points="1348.0,567.7 1332.5,579.4 1323.0,575.1"/>
<polyline points="1351.0,582.5 1334.9,587.8 1344.1,598.4 1340.3,603.7 1328.4,612.2 1319.9,610.0"/>
<polyline points="1312.3,591.0 1319.0,609.0"/>
<polyline points="1394.7,747.6 1398.3,735.9 1407.8,737.0 1430.4,741.8 1447.3,724.3 1471.8,720.1 1496.6,709.5 1500.8,688.3 1495.9,680.9 1473.7,678.8 1464.0,665.1"/>
<polyline points="1471.8,720.1 1482.8,744.9"/>
<polyline points="1495.9,680.9 1499.5,665.1 1503.9,657.7 1500.2,646.0"/>
<polyline points="1346.6,461.9 1378.8,470.4 1399.8,477.8 1412.9,485.2 1417.5,478.3"/>
<polyline points="1361.4,482.0 1377.6,486.3 1389.4,484.1 1401.8,486.8"/>
</g>
<g fill="rgba(64,64,66,0.4)">
<circle cx="1282.0" cy="491.5" r="257"/>
<circle cx="971.3" cy="407.0" r="80"/>
<circle cx="420.8" cy="704.9" r="70.9"/>
<circle cx="257.8" cy="802.5" r="80"/>
<circle cx="1458.3" cy="852.4" r="120.7"/>
<circle cx="2019.4" cy="818.9" r="133.7"/>
</g>
<g fill="#ffffff">
<polygon points="1316.3,424.9 1341.6,409.3 1361.2,409.3 1361.2,554.0 1337.0,554.0 1337.0,441.5 1316.3,441.5"/>
<polygon points="1925.6,780.3 1937.0,770.0 1948.6,770.0 1948.6,845.5 1934.4,845.5 1934.4,788.6 1925.6,788.6"/>
<polygon points="380.8,680.9 389.7,670.5 398.1,670.5 398.1,718.8 387.7,718.8 387.7,686.6 380.8,686.6"/>
<polygon points="215.6,778.8 224.7,767.6 232.9,767.6 232.9,820.4 222.5,820.4 222.5,785.7 215.6,785.7"/>
</g>
<path d="M79.1 1526.4A132 132 0 0 1 296.8 1526.2" stroke="#76a84e" stroke-width="7.4" fill="none"/>
<circle cx="73.0" cy="1536.2" r="4.3" fill="#76a84e"/>
<circle cx="66.6" cy="1549.2" r="4.3" fill="#76a84e"/>
<path d="M82.0 1679.7A132 132 0 0 1 62.0 1561.5" stroke="#c2186c" stroke-width="7.4" fill="none"/>
<circle cx="89.6" cy="1689.0" r="4.3" fill="#d9502f"/>
<path d="M232.7 1725.2A132 132 0 0 1 96.8 1696.4" stroke="#d9502f" stroke-width="7.4" fill="none"/>
<path d="M73.1 1596.2A115 115 0 0 1 181.0 1486.2" stroke="#3f6ca6" stroke-width="8" fill="none"/>
<circle cx="192.0" cy="1486.1" r="4.3" fill="#96204a"/>
<path d="M203.0 1487.0A115 115 0 0 1 268.0 1518.4" stroke="#96204a" stroke-width="8" fill="none"/>
<circle cx="73.2" cy="1608.0" r="4.3" fill="#3f6ca6"/>
<circle cx="75.2" cy="1623.3" r="4.3" fill="#3f6ca6"/>
<circle cx="79.3" cy="1638.4" r="4.3" fill="#3f6ca6"/>
<path d="M192.8 1715.9A115 115 0 0 1 83.4 1648.9" stroke="#96204a" stroke-width="8" fill="none"/>
<path d="M160.2 1695.3A98.3 98.3 0 1 1 231.4 1512.8" stroke="#2c4a70" stroke-width="7.4" fill="none"/>
<circle cx="170.9" cy="1697.8" r="4.3" fill="#2c4a70"/>
</svg></div>
<div class="t" style="left:170.6px;top:133.1px;font-size:113.5px;font-weight:bold;color:#ffffff;transform:scaleX(0.5759);text-shadow:3.75px 0 0 #ffffff,-3.75px 0 0 #ffffff,2.81px 0 0 #ffffff,-2.81px 0 0 #ffffff,1.88px 0 0 #ffffff,-1.88px 0 0 #ffffff,0.94px 0 0 #ffffff,-0.94px 0 0 #ffffff;letter-spacing:7.95px">DEATHS OF</div>
<div class="t" style="left:170.6px;top:263.1px;font-size:113.5px;font-weight:bold;color:#ffffff;transform:scaleX(0.5911);text-shadow:3.75px 0 0 #ffffff,-3.75px 0 0 #ffffff,2.81px 0 0 #ffffff,-2.81px 0 0 #ffffff,1.88px 0 0 #ffffff,-1.88px 0 0 #ffffff,0.94px 0 0 #ffffff,-0.94px 0 0 #ffffff;letter-spacing:7.95px">MIGRANTS</div>
<div class="t" style="left:170.0px;top:391.7px;font-size:113.5px;font-weight:bold;color:#ffffff;transform:scaleX(0.5567);text-shadow:3.75px 0 0 #ffffff,-3.75px 0 0 #ffffff,2.81px 0 0 #ffffff,-2.81px 0 0 #ffffff,1.88px 0 0 #ffffff,-1.88px 0 0 #ffffff,0.94px 0 0 #ffffff,-0.94px 0 0 #ffffff;letter-spacing:7.95px">ALONG</div>
<div class="t" style="left:170.6px;top:521.3px;font-size:113.5px;font-weight:bold;color:#ffffff;transform:scaleX(0.5805);text-shadow:3.75px 0 0 #ffffff,-3.75px 0 0 #ffffff,2.81px 0 0 #ffffff,-2.81px 0 0 #ffffff,1.88px 0 0 #ffffff,-1.88px 0 0 #ffffff,0.94px 0 0 #ffffff,-0.94px 0 0 #ffffff;letter-spacing:7.95px">MIGRATORY</div>
<div class="t" style="left:170.6px;top:650.9px;font-size:113.5px;font-weight:bold;color:#ffffff;transform:scaleX(0.5745);text-shadow:3.75px 0 0 #ffffff,-3.75px 0 0 #ffffff,2.81px 0 0 #ffffff,-2.81px 0 0 #ffffff,1.88px 0 0 #ffffff,-1.88px 0 0 #ffffff,0.94px 0 0 #ffffff,-0.94px 0 0 #ffffff;letter-spacing:7.95px">ROUTES</div>
<div class="t" style="left:170.0px;top:780.9px;font-size:113.5px;font-weight:bold;color:#ffffff;transform:scaleX(0.5739);text-shadow:3.75px 0 0 #ffffff,-3.75px 0 0 #ffffff,2.81px 0 0 #ffffff,-2.81px 0 0 #ffffff,1.88px 0 0 #ffffff,-1.88px 0 0 #ffffff,0.94px 0 0 #ffffff,-0.94px 0 0 #ffffff;letter-spacing:7.95px">ACROSS</div>
<div class="t" style="left:170.6px;top:910.1px;font-size:113.5px;font-weight:bold;color:#ffffff;transform:scaleX(0.5708);text-shadow:3.75px 0 0 #ffffff,-3.75px 0 0 #ffffff,2.81px 0 0 #ffffff,-2.81px 0 0 #ffffff,1.88px 0 0 #ffffff,-1.88px 0 0 #ffffff,0.94px 0 0 #ffffff,-0.94px 0 0 #ffffff;letter-spacing:7.95px">THE GLOBE</div>
<div class="t" style="left:807.6px;top:166.3px;font-size:47.5px;font-weight:bold;color:#9edcf9;transform:scaleX(0.8783)">Around the world,</div>
<div class="t" style="left:1175.1px;top:141.3px;font-size:77px;font-weight:bold;color:#9edcf9;transform:scaleX(0.9652)">over 46,000*</div>
<div class="t" style="left:1626.4px;top:166.3px;font-size:47.5px;font-weight:bold;color:#9edcf9;transform:scaleX(0.8801)">migrants have lost their lives along</div>
<div class="t" style="left:805.7px;top:241.8px;font-size:47.5px;font-weight:bold;color:#9edcf9;transform:scaleX(0.9205)">migratory routes across the globe since 2000. In 2014 and 2015 alone</div>
<div class="t" style="left:808.5px;top:317.3px;font-size:47.5px;font-weight:bold;color:#9edcf9;transform:scaleX(0.8978)">the global count was over 10,400 and many more are unaccounted for.</div>
<div class="t" style="left:808.5px;top:450.1px;font-size:47.5px;font-weight:bold;color:#9edcf9;transform:scaleX(0.9139)">This year, in the first 4 months of 2016, already</div>
<div class="t" style="left:1795.4px;top:425.1px;font-size:77px;font-weight:bold;color:#9edcf9;transform:scaleX(1.0152)">1,638</div>
<div class="t" style="left:2004.4px;top:450.1px;font-size:47.5px;font-weight:bold;color:#9edcf9;transform:scaleX(0.8716)">migrants</div>
<div class="t" style="left:805.8px;top:525.5px;font-size:47.5px;font-weight:bold;color:#9edcf9;transform:scaleX(0.8999)">have died in shipwrecks in the Mediterranean, at the Horn of Africa, in</div>
<div class="t" style="left:807.6px;top:600.8px;font-size:47.5px;font-weight:bold;color:#9edcf9;transform:scaleX(0.8916)">South East Asia, in Central America, or the Sahel and other places.</div>
<div class="t" style="left:807.6px;top:732.8px;font-size:47.5px;font-weight:bold;color:#9edcf9;transform:scaleX(0.8671)">Around the world, over</div>
<div class="t" style="left:1274.5px;top:707.8px;font-size:77px;font-weight:bold;color:#9edcf9;transform:scaleX(1.0406)">5,400</div>
<div class="t" style="left:1487.4px;top:732.8px;font-size:47.5px;font-weight:bold;color:#9edcf9;transform:scaleX(0.9212)">migrants lost their lives in 2015.</div>
<div class="t" style="left:805.9px;top:808.3px;font-size:47.5px;font-weight:bold;color:#9edcf9;transform:scaleX(0.8817)">Many more are unaccounted for. Right now Europe is the world’s most</div>
<div class="t" style="left:807.6px;top:884.3px;font-size:47.5px;font-weight:bold;color:#9edcf9;transform:scaleX(0.8820)">dangerous destination for “irregular” migrants, with the Mediterranean</div>
<div class="t" style="left:807.6px;top:960.3px;font-size:47.5px;font-weight:bold;color:#9edcf9;transform:scaleX(0.8729)">costing the lives of</div>
<div class="t" style="left:1199.0px;top:935.3px;font-size:77px;font-weight:bold;color:#9edcf9;transform:scaleX(1.0484)">3,770</div>
<div class="t" style="left:1413.8px;top:960.3px;font-size:47.5px;font-weight:bold;color:#9edcf9;transform:scaleX(0.9368)">in 2015–almost 70% of the total figure.</div>
<div class="t" style="left:1178.2px;top:1500.5px;font-size:208.5px;font-weight:bold;color:#ffffff;transform:scaleX(0.6144);text-shadow:4.80px 0 0 #ffffff,-4.80px 0 0 #ffffff,3.60px 0 0 #ffffff,-3.60px 0 0 #ffffff,2.40px 0 0 #ffffff,-2.40px 0 0 #ffffff,1.20px 0 0 #ffffff,-1.20px 0 0 #ffffff">8</div>
<div class="t" style="left:1253.2px;top:1541.5px;font-size:160px;font-weight:bold;color:#ffffff;transform:scaleX(1.0542)">,</div>
<div class="t" style="left:1300.6px;top:1500.5px;font-size:208.5px;font-weight:bold;color:#ffffff;transform:scaleX(0.6628);text-shadow:4.80px 0 0 #ffffff,-4.80px 0 0 #ffffff,3.60px 0 0 #ffffff,-3.60px 0 0 #ffffff,2.40px 0 0 #ffffff,-2.40px 0 0 #ffffff,1.20px 0 0 #ffffff,-1.20px 0 0 #ffffff">4</div>
<div class="t" style="left:1385.9px;top:1500.5px;font-size:208.5px;font-weight:bold;color:transparent;transform:scaleX(0.4173)">1</div>
<div class="t" style="left:1455.8px;top:1500.5px;font-size:208.5px;font-weight:bold;color:#ffffff;transform:scaleX(0.6465);text-shadow:4.80px 0 0 #ffffff,-4.80px 0 0 #ffffff,3.60px 0 0 #ffffff,-3.60px 0 0 #ffffff,2.40px 0 0 #ffffff,-2.40px 0 0 #ffffff,1.20px 0 0 #ffffff,-1.20px 0 0 #ffffff">2</div>
<div class="t" style="left:1219.6px;top:1710.8px;font-size:49px;font-weight:bold;color:#ffffff;transform:scaleX(0.6076);text-shadow:1.76px 0 0 #ffffff,-1.76px 0 0 #ffffff,1.32px 0 0 #ffffff,-1.32px 0 0 #ffffff,0.88px 0 0 #ffffff,-0.88px 0 0 #ffffff,0.44px 0 0 #ffffff,-0.44px 0 0 #ffffff;letter-spacing:3.43px">MEDITERRANEAN</div>
<div class="t" style="left:995.1px;top:1477.2px;font-size:78px;font-weight:bold;color:#ffffff;transform:scaleX(0.6204);text-shadow:2.34px 0 0 #ffffff,-2.34px 0 0 #ffffff,1.75px 0 0 #ffffff,-1.75px 0 0 #ffffff,1.17px 0 0 #ffffff,-1.17px 0 0 #ffffff,0.58px 0 0 #ffffff,-0.58px 0 0 #ffffff">2</div>
<div class="t" style="left:1029.0px;top:1477.2px;font-size:78px;font-weight:bold;color:#ffffff;transform:scaleX(0.5811);text-shadow:2.34px 0 0 #ffffff,-2.34px 0 0 #ffffff,1.75px 0 0 #ffffff,-1.75px 0 0 #ffffff,1.17px 0 0 #ffffff,-1.17px 0 0 #ffffff,0.58px 0 0 #ffffff,-0.58px 0 0 #ffffff">0</div>
<div class="t" style="left:1062.5px;top:1477.2px;font-size:78px;font-weight:bold;color:#ffffff;transform:scaleX(0.6204);text-shadow:2.34px 0 0 #ffffff,-2.34px 0 0 #ffffff,1.75px 0 0 #ffffff,-1.75px 0 0 #ffffff,1.17px 0 0 #ffffff,-1.17px 0 0 #ffffff,0.58px 0 0 #ffffff,-0.58px 0 0 #ffffff">8</div>
<div class="t" style="left:934.9px;top:1555.2px;font-size:49px;font-weight:bold;color:#ffffff;transform:scaleX(0.5939);text-shadow:1.76px 0 0 #ffffff,-1.76px 0 0 #ffffff,1.32px 0 0 #ffffff,-1.32px 0 0 #ffffff,0.88px 0 0 #ffffff,-0.88px 0 0 #ffffff,0.44px 0 0 #ffffff,-0.44px 0 0 #ffffff;letter-spacing:3.43px">EUROPE</div>
<div class="t" style="left:452.9px;top:1782.4px;font-size:70.2px;font-weight:bold;color:transparent;transform:scaleX(0.4526)">1</div>
<div class="t" style="left:476.9px;top:1782.4px;font-size:70.2px;font-weight:bold;color:#ffffff;transform:scaleX(0.6323);text-shadow:2.11px 0 0 #ffffff,-2.11px 0 0 #ffffff,1.58px 0 0 #ffffff,-1.58px 0 0 #ffffff,1.05px 0 0 #ffffff,-1.05px 0 0 #ffffff,0.53px 0 0 #ffffff,-0.53px 0 0 #ffffff">2</div>
<div class="t" style="left:506.7px;top:1782.4px;font-size:70.2px;font-weight:bold;color:#ffffff;transform:scaleX(0.6119);text-shadow:2.11px 0 0 #ffffff,-2.11px 0 0 #ffffff,1.58px 0 0 #ffffff,-1.58px 0 0 #ffffff,1.05px 0 0 #ffffff,-1.05px 0 0 #ffffff,0.53px 0 0 #ffffff,-0.53px 0 0 #ffffff">9</div>
<div class="t" style="left:488.4px;top:1845.8px;font-size:49px;font-weight:bold;color:#ffffff;transform:scaleX(0.5974);text-shadow:1.76px 0 0 #ffffff,-1.76px 0 0 #ffffff,1.32px 0 0 #ffffff,-1.32px 0 0 #ffffff,0.88px 0 0 #ffffff,-0.88px 0 0 #ffffff,0.44px 0 0 #ffffff,-0.44px 0 0 #ffffff;letter-spacing:3.43px">CARIBBEAN</div>
<div class="t" style="left:287.9px;top:1878.5px;font-size:76.7px;font-weight:bold;color:transparent;transform:scaleX(0.4159)">1</div>
<div class="t" style="left:312.3px;top:1878.5px;font-size:76.7px;font-weight:bold;color:#ffffff;transform:scaleX(0.6103);text-shadow:2.30px 0 0 #ffffff,-2.30px 0 0 #ffffff,1.72px 0 0 #ffffff,-1.72px 0 0 #ffffff,1.15px 0 0 #ffffff,-1.15px 0 0 #ffffff,0.57px 0 0 #ffffff,-0.57px 0 0 #ffffff">9</div>
<div class="t" style="left:347.0px;top:1878.5px;font-size:76.7px;font-weight:bold;color:#ffffff;transform:scaleX(0.6502);text-shadow:2.30px 0 0 #ffffff,-2.30px 0 0 #ffffff,1.72px 0 0 #ffffff,-1.72px 0 0 #ffffff,1.15px 0 0 #ffffff,-1.15px 0 0 #ffffff,0.57px 0 0 #ffffff,-0.57px 0 0 #ffffff">2</div>
<div class="t" style="left:325.6px;top:1951.4px;font-size:49px;font-weight:bold;color:#ffffff;transform:scaleX(0.5964);text-shadow:1.76px 0 0 #ffffff,-1.76px 0 0 #ffffff,1.32px 0 0 #ffffff,-1.32px 0 0 #ffffff,0.88px 0 0 #ffffff,-0.88px 0 0 #ffffff,0.44px 0 0 #ffffff,-0.44px 0 0 #ffffff;letter-spacing:3.43px">CENTRAL AMERICA</div>
<div class="t" style="left:1473.1px;top:1912.4px;font-size:98px;font-weight:bold;color:#ffffff;transform:scaleX(0.6505);text-shadow:2.94px 0 0 #ffffff,-2.94px 0 0 #ffffff,2.21px 0 0 #ffffff,-2.21px 0 0 #ffffff,1.47px 0 0 #ffffff,-1.47px 0 0 #ffffff,0.73px 0 0 #ffffff,-0.73px 0 0 #ffffff">4</div>
<div class="t" style="left:1515.3px;top:1912.4px;font-size:98px;font-weight:bold;color:#ffffff;transform:scaleX(0.6162);text-shadow:2.94px 0 0 #ffffff,-2.94px 0 0 #ffffff,2.21px 0 0 #ffffff,-2.21px 0 0 #ffffff,1.47px 0 0 #ffffff,-1.47px 0 0 #ffffff,0.73px 0 0 #ffffff,-0.73px 0 0 #ffffff">2</div>
<div class="t" style="left:1557.8px;top:1912.4px;font-size:98px;font-weight:bold;color:#ffffff;transform:scaleX(0.6162);text-shadow:2.94px 0 0 #ffffff,-2.94px 0 0 #ffffff,2.21px 0 0 #ffffff,-2.21px 0 0 #ffffff,1.47px 0 0 #ffffff,-1.47px 0 0 #ffffff,0.73px 0 0 #ffffff,-0.73px 0 0 #ffffff">0</div>
<div class="t" style="left:1504.3px;top:2008.9px;font-size:49px;font-weight:bold;color:#ffffff;transform:scaleX(0.5987);text-shadow:1.76px 0 0 #ffffff,-1.76px 0 0 #ffffff,1.32px 0 0 #ffffff,-1.32px 0 0 #ffffff,0.88px 0 0 #ffffff,-0.88px 0 0 #ffffff,0.44px 0 0 #ffffff,-0.44px 0 0 #ffffff;letter-spacing:3.43px">HORN OF AFRICA</div>
<div class="t" style="left:1997.5px;top:1876.6px;font-size:108.5px;font-weight:bold;color:transparent;transform:scaleX(0.3932)">1</div>
<div class="t" style="left:2028.1px;top:1898.2px;font-size:83px;font-weight:bold;color:#ffffff;transform:scaleX(1.1000)">,</div>
<div class="t" style="left:2055.8px;top:1876.6px;font-size:108.5px;font-weight:bold;color:#ffffff;transform:scaleX(0.6351);text-shadow:3.25px 0 0 #ffffff,-3.25px 0 0 #ffffff,2.44px 0 0 #ffffff,-2.44px 0 0 #ffffff,1.62px 0 0 #ffffff,-1.62px 0 0 #ffffff,0.81px 0 0 #ffffff,-0.81px 0 0 #ffffff">4</div>
<div class="t" style="left:2104.9px;top:1876.6px;font-size:108.5px;font-weight:bold;color:#ffffff;transform:scaleX(0.5512);text-shadow:3.25px 0 0 #ffffff,-3.25px 0 0 #ffffff,2.44px 0 0 #ffffff,-2.44px 0 0 #ffffff,1.62px 0 0 #ffffff,-1.62px 0 0 #ffffff,0.81px 0 0 #ffffff,-0.81px 0 0 #ffffff">5</div>
<div class="t" style="left:2148.1px;top:1876.6px;font-size:108.5px;font-weight:bold;color:#ffffff;transform:scaleX(0.6171);text-shadow:3.25px 0 0 #ffffff,-3.25px 0 0 #ffffff,2.44px 0 0 #ffffff,-2.44px 0 0 #ffffff,1.62px 0 0 #ffffff,-1.62px 0 0 #ffffff,0.81px 0 0 #ffffff,-0.81px 0 0 #ffffff">7</div>
<div class="t" style="left:2045.4px;top:1986.6px;font-size:49px;font-weight:bold;color:#ffffff;transform:scaleX(0.5903);text-shadow:1.76px 0 0 #ffffff,-1.76px 0 0 #ffffff,1.32px 0 0 #ffffff,-1.32px 0 0 #ffffff,0.88px 0 0 #ffffff,-0.88px 0 0 #ffffff,0.44px 0 0 #ffffff,-0.44px 0 0 #ffffff;letter-spacing:3.43px">SOUTHEAST ASIA</div>
<div class="t" style="left:799.0px;top:2487.4px;font-size:25.2px;font-weight:bold;color:#ffffff;transform:scaleX(0.9244)">*Notes:</div>
<div class="t" style="left:886.7px;top:2487.4px;font-size:25.2px;font-weight:normal;color:#ffffff;transform:scaleX(0.9648)">Data shown on this map is from 1 January 2014-2 May 2016. Missing Migrants Project data is compiled from a variety of sources.</div>
<div class="t" style="left:798.1px;top:2520.0px;font-size:25.2px;font-weight:normal;color:#ffffff;transform:scaleX(0.9494)">Sources vary depending on the region and broadly include data from national authorities, such as coast guards and medical examiners; media</div>
<div class="t" style="left:798.0px;top:2552.5px;font-size:25.2px;font-weight:normal;color:#ffffff;transform:scaleX(0.9531)">reports; NGOs; and interviews with survivors of shipwrecks. In the Mediterranean region, data is relayed from relevant national authorities to</div>
<div class="t" style="left:797.1px;top:2585.0px;font-size:25.2px;font-weight:normal;color:#ffffff;transform:scaleX(0.9568)">IOM field missions, who then share it with the MMP team. Data is also obtained by IOM and other organizations that receive survivors at landing</div>
<div class="t" style="left:798.0px;top:2617.5px;font-size:25.2px;font-weight:normal;color:#ffffff;transform:scaleX(0.9576)">points in Italy and Greece. In other cases, media reports are used. Data on the U.S./Mexico border is compiled based on data from U.S. county</div>
<div class="t" style="left:798.0px;top:2650.0px;font-size:25.2px;font-weight:normal;color:#ffffff;transform:scaleX(0.9586)">medical examiners and sheriff’s offices, as well as media reports for deaths occurring on the Mexico side of the border. Estimates within Mexico</div>
<div class="t" style="left:798.1px;top:2682.5px;font-size:25.2px;font-weight:normal;color:#ffffff;transform:scaleX(0.9489)">and Central America are based primarily on media and year-end government reports. Data on the Bay of Bengal is drawn from reports by UNHCR</div>
<div class="t" style="left:798.0px;top:2715.0px;font-size:25.2px;font-weight:normal;color:#ffffff;transform:scaleX(0.9568)">and NGOs. In the Horn of Africa, data is obtained from media and NGOs. Data for other regions is drawn from a combination of sources,</div>
<div class="t" style="left:798.0px;top:2747.5px;font-size:25.2px;font-weight:normal;color:#ffffff;transform:scaleX(0.9518)">including media and grassroots organizations. In all cases MMP data represents minimum estimates and are potentially lower than actual.</div>
<div class="t" style="left:798.0px;top:2811.3px;font-size:25.2px;font-weight:normal;color:#ffffff;transform:scaleX(0.9514)">Source: Missing Migrants Project tracks deaths of migrants along migratory routes worldwide. The aim is to strengthen advocacy and support a</div>
<div class="t" style="left:798.1px;top:2843.8px;font-size:25.2px;font-weight:normal;color:#ffffff;transform:scaleX(0.9461)">more informed policy response.</div>
<div class="t" style="left:1146.6px;top:2843.8px;font-size:25.2px;font-weight:bold;color:#ffffff;transform:scaleX(0.8868)">http://missingmigrants.iom.int</div>
<div class="t" style="left:246.3px;top:2690.1px;font-size:21.8px;font-weight:bold;color:#2c4a70;transform:scaleX(1.1780)">UNITED NATIONS SUMMIT FOR</div>
<div class="t" style="left:244.5px;top:2716.3px;font-size:31px;font-weight:normal;color:#2c4a70;transform:scaleX(1.1135);-webkit-text-stroke:0.6px #2c4a70">REFUGEES</div>
<div class="t" style="left:442.9px;top:2724.4px;font-size:21.4px;font-weight:bold;color:#2c4a70;transform:scaleX(1.1635)">AND</div>
<div class="t" style="left:504.0px;top:2716.3px;font-size:31px;font-weight:normal;color:#2c4a70;transform:scaleX(1.1564);-webkit-text-stroke:0.6px #2c4a70">MIGRANTS</div>
<div class="t" style="left:244.5px;top:2755.5px;font-size:23px;font-weight:normal;color:#3f6ca6;transform:scaleX(1.0609);-webkit-text-stroke:0.6px #3f6ca6">19 September 2016 • UN Headquarters</div>
<div id="bot"></div>
</body></html>
